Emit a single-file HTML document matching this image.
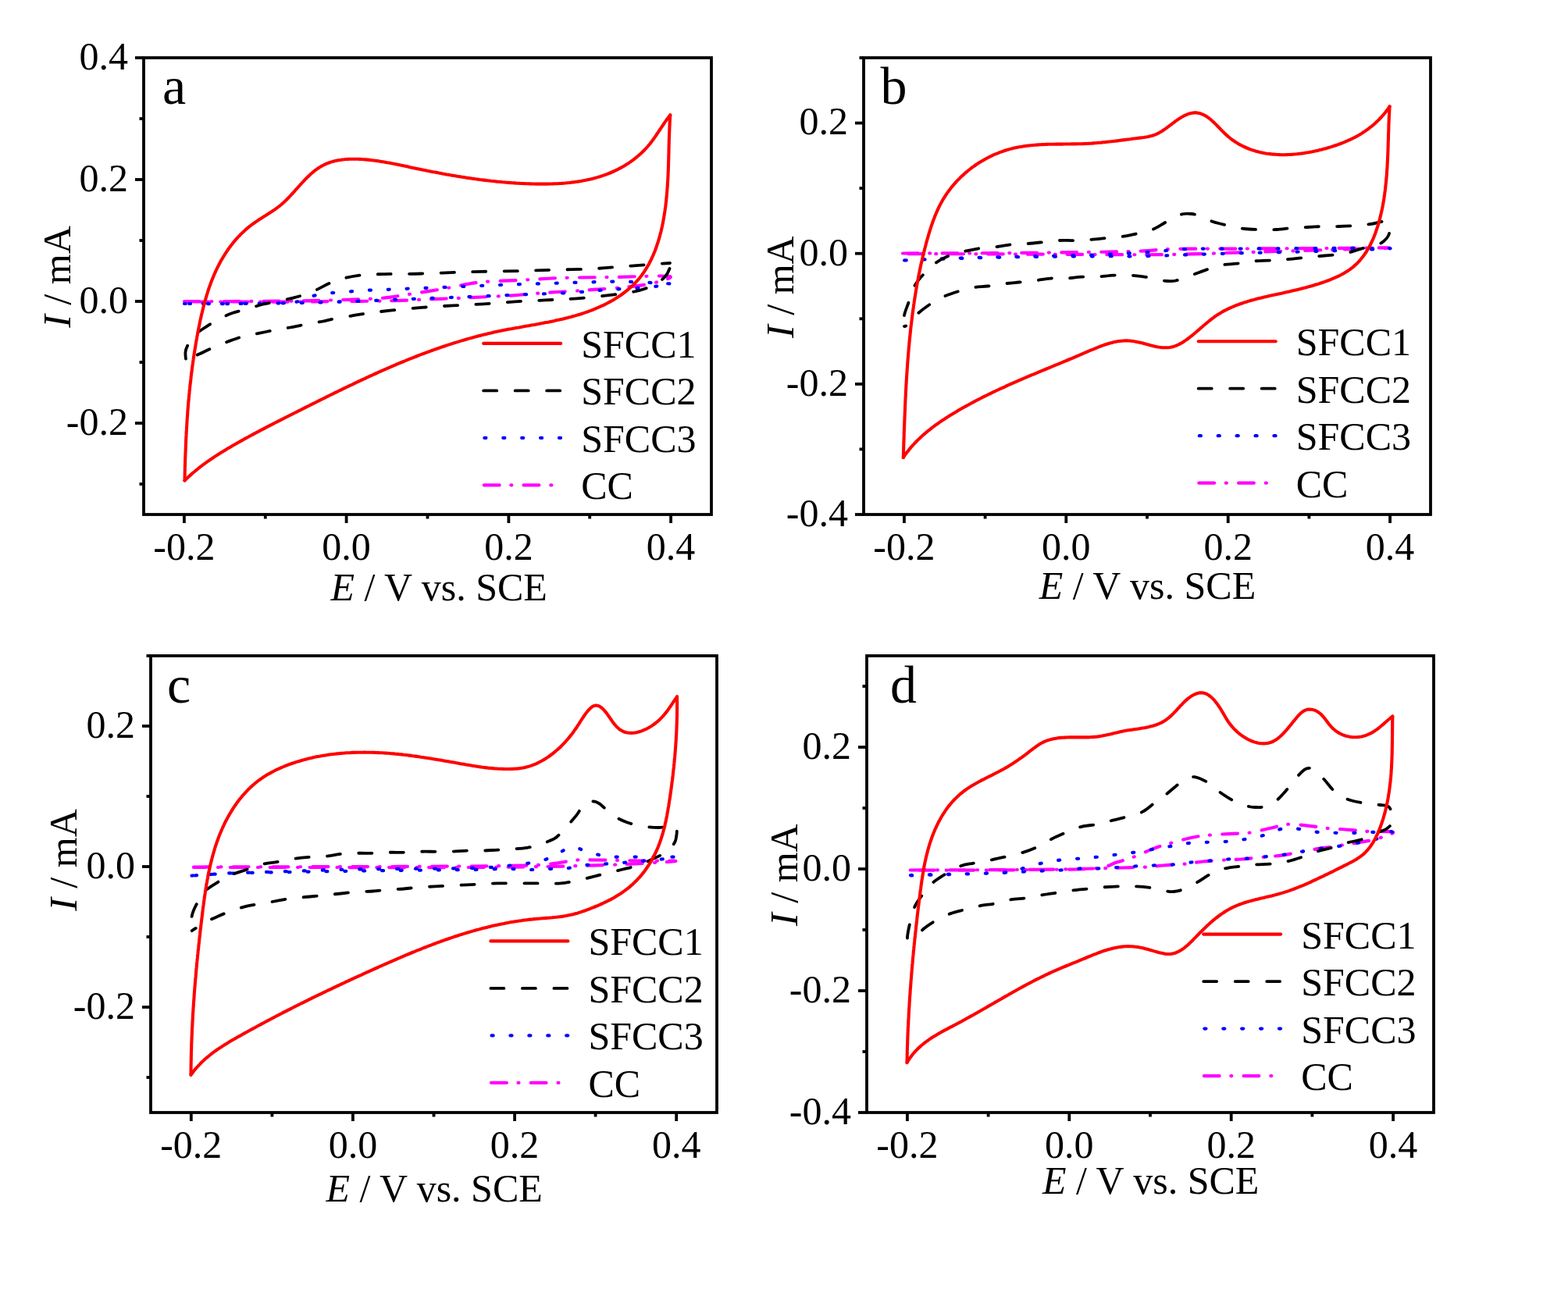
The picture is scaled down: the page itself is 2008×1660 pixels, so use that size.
<!DOCTYPE html><html><head><meta charset="utf-8"><style>html,body{margin:0;padding:0;background:#fff;}svg{display:block;}</style></head><body>
<svg font-family="Liberation Serif, Times New Roman, serif" font-size="50" fill="#000" xmlns="http://www.w3.org/2000/svg" width="2008" height="1660" viewBox="0 0 2008 1660">
<rect width="2008" height="1660" fill="#fff"/>
<g><clipPath id="clipa"><rect x="184" y="74" width="727" height="585"/></clipPath><g clip-path="url(#clipa)"><path d="M236.0,386.0 C246.7,386.0 276.0,386.1 300.0,386.0 C324.0,385.9 356.7,385.8 380.0,385.5 C403.3,385.2 423.3,384.5 440.0,384.0 C456.7,383.5 470.0,383.1 480.0,382.5 C490.0,381.9 493.5,381.4 500.0,380.6 C506.5,379.8 507.9,379.4 518.9,377.7 C529.9,376.0 550.4,372.9 566.2,370.2 C582.0,367.5 596.8,363.5 613.5,361.6 C630.2,359.7 649.1,359.7 666.5,358.8 C683.9,357.9 698.0,356.6 717.6,356.0 C737.2,355.4 760.5,355.3 783.9,355.0 C807.2,354.7 851.4,352.4 857.7,354.1 C864.0,355.8 840.3,362.4 821.7,365.4 C803.1,368.4 766.5,370.4 746.0,372.0 C725.5,373.6 714.5,373.8 698.7,374.9 C682.9,376.0 668.8,377.6 651.4,378.7 C634.0,379.8 612.0,380.7 594.6,381.5 C577.2,382.3 563.1,382.8 547.3,383.4 C531.5,384.0 517.9,384.9 500.0,385.3 C482.1,385.7 460.0,385.8 440.0,386.0 C420.0,386.2 403.3,386.4 380.0,386.5 C356.7,386.6 324.0,386.5 300.0,386.5 C276.0,386.5 246.7,386.5 236.0,386.5" stroke="#ff00ff" stroke-width="4.2" fill="none" stroke-dasharray="19.8 14.7 1 15.3" stroke-linecap="round"/><path d="M236.0,389.0 C246.7,389.0 277.2,389.2 300.0,389.0 C322.8,388.8 357.8,388.8 373.0,387.5 C388.2,386.2 384.0,383.4 391.0,381.5 C398.0,379.6 407.0,377.4 415.0,376.2 C423.0,375.0 431.0,374.9 439.0,374.2 C447.0,373.5 455.0,372.7 463.0,372.2 C471.0,371.7 479.0,371.5 487.0,371.2 C495.0,370.9 499.0,370.7 511.0,370.2 C523.0,369.7 543.2,368.9 559.0,368.3 C574.8,367.7 590.3,367.0 606.0,366.4 C621.7,365.8 637.2,365.1 653.0,364.5 C668.8,363.9 684.8,363.6 700.6,363.1 C716.4,362.6 731.9,362.0 748.0,361.6 C764.1,361.2 780.0,360.5 797.0,360.7 C814.0,360.9 839.8,362.4 850.0,363.0 C860.2,363.6 862.1,363.1 858.0,364.0 C853.9,364.9 838.8,367.1 825.5,368.3 C812.2,369.5 793.8,370.0 778.0,371.1 C762.2,372.2 747.0,373.9 731.0,374.9 C715.0,375.8 697.8,376.2 682.0,376.8 C666.2,377.4 651.8,378.1 636.0,378.7 C620.2,379.3 603.0,380.0 587.0,380.6 C571.0,381.2 552.0,382.0 540.0,382.5 C528.0,383.0 525.0,383.0 515.0,383.4 C505.0,383.8 492.5,384.5 480.0,385.0 C467.5,385.5 456.7,386.0 440.0,386.5 C423.3,387.0 403.3,387.6 380.0,388.0 C356.7,388.4 324.0,388.8 300.0,389.0 C276.0,389.2 246.7,389.0 236.0,389.0" stroke="#0000ff" stroke-width="4.2" fill="none" stroke-dasharray="2 21.9" stroke-linecap="round"/><path d="M858.0,337.0 C857.9,338.2 858.5,341.2 857.5,344.0 C856.5,346.8 854.9,350.7 852.0,354.0 C849.1,357.3 844.0,361.5 840.0,364.0 C836.0,366.5 832.6,367.4 828.0,369.0 C823.4,370.6 819.8,372.1 812.4,373.5 C805.0,374.9 796.2,376.2 783.9,377.7 C771.6,379.2 752.9,381.3 738.8,382.4 C724.6,383.5 712.2,383.7 699.0,384.4 C685.8,385.1 672.5,385.6 659.3,386.4 C646.0,387.2 632.8,388.6 619.5,389.4 C606.2,390.2 593.0,390.6 579.8,391.4 C566.5,392.1 553.3,392.9 540.0,393.9 C526.7,394.9 511.9,396.3 500.0,397.6 C488.1,398.9 477.0,400.4 468.8,401.5 C460.6,402.6 457.6,403.3 451.0,404.4 C444.4,405.5 435.7,406.7 429.0,408.0 C422.3,409.3 417.3,410.8 411.0,412.0 C404.7,413.2 397.8,414.2 391.2,415.5 C384.6,416.8 377.8,418.3 371.2,419.5 C364.6,420.7 357.9,421.7 351.3,422.9 C344.7,424.1 338.0,425.6 331.4,426.9 C324.8,428.2 317.8,429.2 311.5,430.9 C305.2,432.6 299.8,434.6 293.5,436.9 C287.2,439.2 279.7,442.1 273.6,444.8 C267.5,447.5 261.3,450.6 256.7,452.8 C252.1,455.0 248.9,456.0 246.0,458.0 C243.1,460.0 240.9,466.2 239.5,465.0 C238.1,463.8 237.2,455.0 237.5,451.0 C237.8,447.0 239.6,443.8 241.0,441.0 C242.4,438.2 243.9,436.3 245.7,434.0 C247.5,431.7 249.3,429.3 252.0,427.0 C254.7,424.7 257.1,423.0 261.7,420.0 C266.3,417.0 273.6,412.2 279.6,409.0 C285.6,405.8 290.9,403.3 297.5,401.0 C304.1,398.7 313.1,396.8 319.4,395.0 C325.7,393.2 329.4,391.5 335.4,390.0 C341.4,388.5 348.7,387.4 355.3,386.0 C361.9,384.6 369.9,382.9 375.2,381.6 C380.5,380.3 382.5,379.8 387.2,378.2 C391.9,376.6 397.1,374.8 403.1,372.2 C409.1,369.6 416.7,364.9 423.0,362.3 C429.3,359.7 434.4,358.0 441.0,356.3 C447.6,354.6 455.9,353.1 462.9,352.3 C469.9,351.5 476.2,351.5 482.8,351.3 C489.4,351.1 493.2,351.0 502.7,350.9 C512.2,350.8 525.5,350.9 540.0,350.5 C554.5,350.1 574.8,349.1 589.7,348.6 C604.6,348.1 616.2,347.9 629.5,347.6 C642.8,347.3 656.0,347.3 669.2,347.0 C682.5,346.7 695.1,346.0 709.0,345.6 C722.9,345.2 738.8,345.2 752.7,344.6 C766.6,344.0 778.9,342.7 792.5,341.7 C806.1,340.7 823.3,339.5 834.2,338.7 C845.1,337.9 854.0,337.3 858.0,337.0" stroke="#000" stroke-width="3.8" fill="none" stroke-dasharray="17.2 23.3" stroke-linecap="round" stroke-linejoin="round" stroke-dashoffset="33.5"/><path d="M236.5,615.5 L236.6,613.0 L236.6,610.5 L236.7,608.0 L236.7,605.5 L236.8,603.0 L236.8,600.5 L236.9,598.0 L237.0,595.4 L237.1,592.9 L237.1,590.4 L237.2,587.9 L237.3,585.4 L237.4,582.9 L237.5,580.4 L237.6,577.9 L237.7,575.4 L237.8,572.9 L237.9,570.4 L238.0,567.9 L238.1,565.4 L238.2,562.9 L238.3,560.4 L238.5,557.9 L238.6,555.4 L238.7,552.9 L238.9,550.4 L239.0,547.9 L239.2,545.3 L239.3,542.8 L239.5,540.3 L239.6,537.8 L239.8,535.3 L240.0,532.8 L240.2,530.3 L240.3,527.8 L240.5,525.3 L240.7,522.8 L240.9,520.3 L241.1,517.8 L241.3,515.3 L241.6,512.8 L241.8,510.3 L242.0,507.8 L242.2,505.4 L242.5,502.9 L242.7,500.4 L243.0,497.9 L243.2,495.4 L243.5,492.9 L243.8,490.4 L244.1,487.9 L244.4,485.4 L244.6,482.9 L244.9,480.4 L245.2,477.9 L245.6,475.4 L245.9,473.0 L246.2,470.5 L246.5,468.0 L246.9,465.5 L247.2,463.0 L247.6,460.5 L247.9,458.1 L248.3,455.6 L248.7,453.1 L249.1,450.6 L249.5,448.1 L249.9,445.7 L250.3,443.2 L250.7,440.7 L251.1,438.3 L251.5,435.8 L252.0,433.3 L252.4,430.8 L252.9,428.4 L253.3,425.9 L253.8,423.5 L254.3,421.0 L254.8,418.5 L255.3,416.1 L255.8,413.6 L256.3,411.2 L256.8,408.7 L257.4,406.3 L257.9,403.8 L258.5,401.4 L259.1,398.9 L259.7,396.5 L260.3,394.1 L260.9,391.6 L261.5,389.2 L262.2,386.8 L262.9,384.4 L263.6,382.0 L264.3,379.6 L265.0,377.2 L265.8,374.8 L266.5,372.4 L267.3,370.0 L268.1,367.6 L269.0,365.3 L269.8,362.9 L270.7,360.6 L271.6,358.2 L272.6,355.9 L273.5,353.6 L274.5,351.3 L275.5,349.0 L276.6,346.7 L277.6,344.5 L278.7,342.2 L279.9,340.0 L281.0,337.7 L282.2,335.5 L283.4,333.3 L284.7,331.2 L286.0,329.0 L287.3,326.9 L288.6,324.8 L290.0,322.7 L291.4,320.6 L292.8,318.5 L294.3,316.5 L295.8,314.5 L297.4,312.5 L298.9,310.6 L300.5,308.6 L302.2,306.7 L303.8,304.9 L305.5,303.0 L307.3,301.2 L309.0,299.4 L310.8,297.7 L312.7,296.0 L314.5,294.3 L316.4,292.6 L318.3,291.0 L320.3,289.5 L322.3,287.9 L324.3,286.5 L326.4,285.0 L328.4,283.6 L330.5,282.2 L332.6,280.8 L334.7,279.5 L336.8,278.1 L339.0,276.8 L341.1,275.5 L343.2,274.1 L345.3,272.8 L347.4,271.4 L349.5,270.0 L351.6,268.6 L353.6,267.1 L355.6,265.6 L357.6,264.1 L359.6,262.5 L361.5,260.9 L363.3,259.2 L365.2,257.5 L367.0,255.8 L368.7,254.0 L370.5,252.2 L372.2,250.4 L373.9,248.5 L375.6,246.7 L377.3,244.8 L378.9,242.9 L380.6,241.1 L382.3,239.2 L383.9,237.3 L385.6,235.5 L387.3,233.6 L389.0,231.8 L390.7,230.0 L392.5,228.2 L394.3,226.4 L396.1,224.7 L397.9,223.0 L399.8,221.3 L401.8,219.7 L403.7,218.2 L405.8,216.7 L407.8,215.3 L409.9,213.9 L412.1,212.6 L414.3,211.5 L416.5,210.4 L418.8,209.4 L421.2,208.5 L423.6,207.6 L426.0,206.9 L428.4,206.3 L430.8,205.7 L433.3,205.3 L435.8,204.9 L438.3,204.5 L440.7,204.3 L443.2,204.0 L445.7,203.9 L448.3,203.8 L450.8,203.7 L453.3,203.7 L455.8,203.7 L458.3,203.8 L460.8,203.9 L463.3,204.0 L465.8,204.2 L468.3,204.4 L470.8,204.6 L473.3,204.9 L475.8,205.2 L478.3,205.5 L480.7,205.8 L483.2,206.1 L485.7,206.5 L488.2,206.9 L490.7,207.3 L493.1,207.7 L495.6,208.2 L498.1,208.6 L500.5,209.1 L503.0,209.6 L505.5,210.0 L507.9,210.5 L510.4,211.0 L512.8,211.6 L515.3,212.1 L517.7,212.6 L520.2,213.1 L522.6,213.6 L525.1,214.2 L527.5,214.7 L530.0,215.2 L532.4,215.7 L534.9,216.2 L537.4,216.7 L539.8,217.2 L542.3,217.7 L544.7,218.2 L547.2,218.7 L549.6,219.2 L552.1,219.7 L554.6,220.2 L557.0,220.6 L559.5,221.1 L562.0,221.6 L564.4,222.0 L566.9,222.5 L569.4,222.9 L571.8,223.4 L574.3,223.8 L576.8,224.3 L579.2,224.7 L581.7,225.1 L584.2,225.5 L586.7,225.9 L589.1,226.3 L591.6,226.7 L594.1,227.1 L596.6,227.5 L599.0,227.9 L601.5,228.2 L604.0,228.6 L606.5,228.9 L609.0,229.3 L611.5,229.6 L613.9,230.0 L616.4,230.3 L618.9,230.6 L621.4,230.9 L623.9,231.2 L626.4,231.5 L628.9,231.8 L631.4,232.0 L633.9,232.3 L636.4,232.6 L638.8,232.8 L641.3,233.0 L643.8,233.3 L646.3,233.5 L648.8,233.7 L651.3,233.9 L653.8,234.1 L656.3,234.3 L658.8,234.4 L661.3,234.6 L663.8,234.7 L666.3,234.9 L668.9,235.0 L671.4,235.1 L673.9,235.2 L676.4,235.3 L678.9,235.4 L681.4,235.5 L683.9,235.5 L686.4,235.6 L688.9,235.6 L691.4,235.6 L693.9,235.6 L696.4,235.6 L698.9,235.6 L701.4,235.6 L703.9,235.5 L706.5,235.5 L709.0,235.4 L711.5,235.3 L714.0,235.2 L716.5,235.0 L719.0,234.9 L721.5,234.7 L724.0,234.5 L726.5,234.2 L729.0,234.0 L731.5,233.7 L733.9,233.4 L736.4,233.1 L738.9,232.7 L741.4,232.4 L743.9,232.0 L746.3,231.5 L748.8,231.1 L751.3,230.6 L753.7,230.0 L756.2,229.5 L758.6,228.9 L761.0,228.3 L763.4,227.6 L765.8,226.9 L768.2,226.2 L770.6,225.4 L773.0,224.6 L775.4,223.8 L777.7,222.9 L780.1,222.0 L782.4,221.0 L784.7,220.0 L787.0,219.0 L789.2,217.9 L791.5,216.8 L793.7,215.6 L795.9,214.4 L798.1,213.2 L800.2,211.9 L802.4,210.6 L804.5,209.3 L806.6,207.9 L808.6,206.4 L810.7,205.0 L812.6,203.4 L814.6,201.9 L816.5,200.3 L818.4,198.6 L820.3,197.0 L822.1,195.3 L823.9,193.5 L825.7,191.7 L827.4,189.9 L829.1,188.0 L830.7,186.1 L832.3,184.2 L833.8,182.2 L835.3,180.2 L836.8,178.2 L838.3,176.1 L839.7,174.1 L841.1,172.0 L842.5,169.9 L843.9,167.8 L845.3,165.8 L846.7,163.7 L848.1,161.6 L849.5,159.5 L850.9,157.4 L852.3,155.4 L853.8,153.3 L855.3,151.3 L856.8,149.3 L858.3,147.3" stroke="#ff0000" stroke-width="4.1" fill="none" stroke-linejoin="round" stroke-linecap="round"/><path d="M858.3,147.3 L858.1,149.8 L858.0,152.3 L857.8,154.8 L857.7,157.3 L857.6,159.8 L857.5,162.3 L857.4,164.9 L857.3,167.4 L857.2,169.9 L857.1,172.4 L857.0,174.9 L856.9,177.4 L856.8,179.9 L856.8,182.4 L856.7,184.9 L856.6,187.4 L856.6,190.0 L856.5,192.5 L856.5,195.0 L856.4,197.5 L856.3,200.0 L856.3,202.5 L856.2,205.0 L856.1,207.5 L856.0,210.0 L856.0,212.5 L855.9,215.1 L855.8,217.6 L855.7,220.1 L855.6,222.6 L855.5,225.1 L855.4,227.6 L855.2,230.1 L855.1,232.6 L854.9,235.1 L854.8,237.6 L854.6,240.1 L854.4,242.6 L854.2,245.1 L854.0,247.6 L853.8,250.1 L853.6,252.6 L853.3,255.1 L853.1,257.6 L852.8,260.1 L852.5,262.6 L852.2,265.1 L851.8,267.6 L851.5,270.1 L851.1,272.6 L850.7,275.1 L850.3,277.5 L849.9,280.0 L849.4,282.5 L849.0,285.0 L848.5,287.4 L848.0,289.9 L847.4,292.3 L846.9,294.8 L846.3,297.2 L845.6,299.6 L845.0,302.1 L844.3,304.5 L843.6,306.9 L842.9,309.3 L842.1,311.7 L841.3,314.1 L840.5,316.5 L839.7,318.8 L838.8,321.2 L837.8,323.5 L836.9,325.8 L835.9,328.1 L834.8,330.4 L833.8,332.7 L832.6,334.9 L831.5,337.2 L830.3,339.4 L829.0,341.5 L827.8,343.7 L826.4,345.8 L825.1,347.9 L823.6,350.0 L822.2,352.0 L820.7,354.0 L819.1,356.0 L817.5,357.9 L815.8,359.8 L814.1,361.7 L812.4,363.5 L810.6,365.3 L808.8,367.0 L806.9,368.7 L805.0,370.3 L803.1,371.9 L801.1,373.5 L799.1,375.0 L797.1,376.5 L795.1,378.0 L793.0,379.4 L790.9,380.8 L788.8,382.1 L786.6,383.4 L784.5,384.7 L782.3,385.9 L780.1,387.1 L777.9,388.3 L775.6,389.5 L773.4,390.6 L771.1,391.7 L768.8,392.7 L766.6,393.7 L764.2,394.7 L761.9,395.7 L759.6,396.6 L757.3,397.6 L754.9,398.4 L752.5,399.3 L750.2,400.1 L747.8,400.9 L745.4,401.7 L743.0,402.5 L740.6,403.2 L738.2,403.9 L735.8,404.6 L733.4,405.3 L731.0,406.0 L728.5,406.6 L726.1,407.2 L723.7,407.8 L721.2,408.4 L718.8,409.0 L716.3,409.6 L713.9,410.1 L711.4,410.6 L709.0,411.2 L706.5,411.7 L704.0,412.2 L701.6,412.7 L699.1,413.1 L696.7,413.6 L694.2,414.1 L691.7,414.5 L689.2,415.0 L686.8,415.4 L684.3,415.9 L681.8,416.3 L679.4,416.7 L676.9,417.2 L674.4,417.6 L671.9,418.1 L669.5,418.5 L667.0,418.9 L664.5,419.4 L662.0,419.8 L659.6,420.3 L657.1,420.7 L654.6,421.2 L652.2,421.6 L649.7,422.1 L647.2,422.6 L644.8,423.1 L642.3,423.6 L639.8,424.1 L637.4,424.6 L634.9,425.1 L632.5,425.6 L630.0,426.2 L627.6,426.8 L625.1,427.3 L622.7,427.9 L620.3,428.5 L617.8,429.1 L615.4,429.7 L613.0,430.3 L610.5,431.0 L608.1,431.6 L605.7,432.3 L603.2,432.9 L600.8,433.6 L598.4,434.3 L596.0,435.0 L593.6,435.7 L591.2,436.4 L588.8,437.1 L586.4,437.9 L584.0,438.6 L581.6,439.3 L579.2,440.1 L576.8,440.9 L574.4,441.6 L572.0,442.4 L569.6,443.2 L567.3,444.0 L564.9,444.8 L562.5,445.6 L560.1,446.5 L557.8,447.3 L555.4,448.1 L553.0,449.0 L550.7,449.9 L548.3,450.7 L546.0,451.6 L543.6,452.5 L541.3,453.3 L538.9,454.2 L536.6,455.1 L534.2,456.0 L531.9,457.0 L529.5,457.9 L527.2,458.8 L524.9,459.7 L522.5,460.7 L520.2,461.6 L517.9,462.6 L515.6,463.5 L513.2,464.5 L510.9,465.4 L508.6,466.4 L506.3,467.4 L504.0,468.4 L501.7,469.4 L499.4,470.4 L497.1,471.4 L494.8,472.4 L492.5,473.4 L490.2,474.4 L487.9,475.4 L485.6,476.4 L483.3,477.5 L481.0,478.5 L478.7,479.5 L476.4,480.6 L474.1,481.6 L471.9,482.7 L469.6,483.7 L467.3,484.8 L465.0,485.8 L462.8,486.9 L460.5,488.0 L458.2,489.0 L455.9,490.1 L453.7,491.2 L451.4,492.3 L449.1,493.3 L446.9,494.4 L444.6,495.5 L442.3,496.6 L440.1,497.7 L437.8,498.8 L435.6,499.9 L433.3,501.0 L431.1,502.1 L428.8,503.2 L426.5,504.3 L424.3,505.4 L422.0,506.5 L419.8,507.6 L417.5,508.8 L415.3,509.9 L413.0,511.0 L410.8,512.1 L408.5,513.2 L406.3,514.3 L404.1,515.5 L401.8,516.6 L399.6,517.7 L397.3,518.8 L395.1,520.0 L392.8,521.1 L390.6,522.2 L388.3,523.4 L386.1,524.5 L383.9,525.6 L381.6,526.7 L379.4,527.9 L377.1,529.0 L374.9,530.1 L372.6,531.3 L370.4,532.4 L368.2,533.5 L365.9,534.6 L363.7,535.8 L361.4,536.9 L359.2,538.1 L357.0,539.2 L354.7,540.3 L352.5,541.5 L350.2,542.6 L348.0,543.8 L345.8,544.9 L343.5,546.1 L341.3,547.2 L339.1,548.4 L336.9,549.6 L334.6,550.7 L332.4,551.9 L330.2,553.1 L328.0,554.2 L325.8,555.4 L323.6,556.6 L321.3,557.8 L319.1,559.0 L316.9,560.2 L314.7,561.4 L312.5,562.6 L310.3,563.9 L308.1,565.1 L306.0,566.3 L303.8,567.5 L301.6,568.8 L299.4,570.0 L297.2,571.3 L295.1,572.6 L292.9,573.8 L290.7,575.1 L288.6,576.4 L286.4,577.7 L284.3,579.0 L282.2,580.3 L280.0,581.7 L277.9,583.0 L275.8,584.4 L273.7,585.8 L271.6,587.2 L269.5,588.6 L267.5,590.0 L265.4,591.4 L263.4,592.9 L261.3,594.4 L259.3,595.9 L257.3,597.4 L255.3,598.9 L253.4,600.5 L251.4,602.1 L249.5,603.7 L247.6,605.3 L245.7,606.9 L243.8,608.6 L241.9,610.3 L240.1,612.0 L238.3,613.7 L236.5,615.5" stroke="#ff0000" stroke-width="4.1" fill="none" stroke-linejoin="round" stroke-linecap="round"/></g><rect x="184" y="74" width="727" height="585" fill="none" stroke="#000" stroke-width="3.8"/><line x1="235.9" y1="659" x2="235.9" y2="670.0" stroke="#000" stroke-width="3.8"/><text x="235.9" y="716.6" text-anchor="middle">-0.2</text><line x1="443.6" y1="659" x2="443.6" y2="670.0" stroke="#000" stroke-width="3.8"/><text x="443.6" y="716.6" text-anchor="middle">0.0</text><line x1="651.4" y1="659" x2="651.4" y2="670.0" stroke="#000" stroke-width="3.8"/><text x="651.4" y="716.6" text-anchor="middle">0.2</text><line x1="859.1" y1="659" x2="859.1" y2="670.0" stroke="#000" stroke-width="3.8"/><text x="859.1" y="716.6" text-anchor="middle">0.4</text><line x1="339.8" y1="659" x2="339.8" y2="664.5" stroke="#000" stroke-width="3.8"/><line x1="547.5" y1="659" x2="547.5" y2="664.5" stroke="#000" stroke-width="3.8"/><line x1="755.2" y1="659" x2="755.2" y2="664.5" stroke="#000" stroke-width="3.8"/><line x1="184" y1="542.0" x2="173.0" y2="542.0" stroke="#000" stroke-width="3.8"/><text x="164.0" y="556.8" text-anchor="end">-0.2</text><line x1="184" y1="386.0" x2="173.0" y2="386.0" stroke="#000" stroke-width="3.8"/><text x="164.0" y="400.8" text-anchor="end">0.0</text><line x1="184" y1="230.0" x2="173.0" y2="230.0" stroke="#000" stroke-width="3.8"/><text x="164.0" y="244.8" text-anchor="end">0.2</text><line x1="184" y1="74.0" x2="173.0" y2="74.0" stroke="#000" stroke-width="3.8"/><text x="164.0" y="88.8" text-anchor="end">0.4</text><line x1="184" y1="620.0" x2="178.5" y2="620.0" stroke="#000" stroke-width="3.8"/><line x1="184" y1="464.0" x2="178.5" y2="464.0" stroke="#000" stroke-width="3.8"/><line x1="184" y1="308.0" x2="178.5" y2="308.0" stroke="#000" stroke-width="3.8"/><line x1="184" y1="152.0" x2="178.5" y2="152.0" stroke="#000" stroke-width="3.8"/><text x="208.0" y="133.0" font-size="68">a</text><text x="423.5" y="769.4"><tspan font-style="italic">E</tspan> / V vs. SCE</text><text transform="translate(90.2,354.5) rotate(-90)" text-anchor="middle"><tspan font-style="italic">I</tspan> / mA</text><line x1="619.2" y1="439.9" x2="718.2" y2="439.9" stroke="#ff0000" stroke-width="4.1" fill="none" stroke-linejoin="round" stroke-linecap="round"/><text x="744.2" y="457.9">SFCC1</text><line x1="619.2" y1="500.4" x2="636.2" y2="500.4" stroke="#000" stroke-width="3.8" stroke-linecap="round"/><line x1="659.7" y1="500.4" x2="676.7" y2="500.4" stroke="#000" stroke-width="3.8" stroke-linecap="round"/><line x1="700.2" y1="500.4" x2="717.2" y2="500.4" stroke="#000" stroke-width="3.8" stroke-linecap="round"/><text x="744.2" y="518.4">SFCC2</text><line x1="620.4" y1="560.9" x2="622.4" y2="560.9" stroke="#0000ff" stroke-width="4.2" stroke-linecap="round"/><line x1="644.3" y1="560.9" x2="646.3" y2="560.9" stroke="#0000ff" stroke-width="4.2" stroke-linecap="round"/><line x1="668.2" y1="560.9" x2="670.2" y2="560.9" stroke="#0000ff" stroke-width="4.2" stroke-linecap="round"/><line x1="692.1" y1="560.9" x2="694.1" y2="560.9" stroke="#0000ff" stroke-width="4.2" stroke-linecap="round"/><line x1="716.0" y1="560.9" x2="718.0" y2="560.9" stroke="#0000ff" stroke-width="4.2" stroke-linecap="round"/><text x="744.2" y="578.9">SFCC3</text><line x1="619.8" y1="621.4" x2="639.6" y2="621.4" stroke="#ff00ff" stroke-width="4.2" stroke-linecap="round"/><line x1="654.3" y1="621.4" x2="655.3" y2="621.4" stroke="#ff00ff" stroke-width="4.2" stroke-linecap="round"/><line x1="670.6" y1="621.4" x2="690.3" y2="621.4" stroke="#ff00ff" stroke-width="4.2" stroke-linecap="round"/><line x1="705.3" y1="621.4" x2="706.3" y2="621.4" stroke="#ff00ff" stroke-width="4.2" stroke-linecap="round"/><text x="744.2" y="639.4">CC</text></g>
<g><clipPath id="clipb"><rect x="1106" y="74" width="726" height="585"/></clipPath><g clip-path="url(#clipb)"><path d="M1156.0,324.5 C1180.0,324.4 1251.0,324.4 1300.0,324.0 C1349.0,323.6 1416.7,322.8 1450.0,322.0 C1483.3,321.2 1475.0,319.6 1500.0,319.0 C1525.0,318.4 1566.7,318.7 1600.0,318.5 C1633.3,318.3 1670.2,318.2 1700.0,318.0 C1729.8,317.8 1779.0,317.2 1779.0,317.5 C1779.0,317.8 1729.8,319.1 1700.0,320.0 C1670.2,320.9 1633.3,322.0 1600.0,323.0 C1566.7,324.0 1533.3,325.5 1500.0,326.0 C1466.7,326.5 1433.3,326.1 1400.0,326.0 C1366.7,325.9 1340.7,325.7 1300.0,325.5 C1259.3,325.3 1180.0,325.1 1156.0,325.0" stroke="#ff00ff" stroke-width="4.2" fill="none" stroke-dasharray="19.8 14.7 1 15.3" stroke-linecap="round"/><path d="M1158.0,333.5 C1169.8,333.0 1205.2,331.3 1229.0,330.5 C1252.8,329.7 1272.5,329.5 1301.0,328.8 C1329.5,328.1 1371.8,327.5 1400.0,326.5 C1428.2,325.5 1450.0,324.2 1470.0,323.0 C1490.0,321.8 1498.3,319.8 1520.0,319.0 C1541.7,318.2 1556.8,318.7 1600.0,318.5 C1643.2,318.3 1765.7,317.4 1779.0,318.0 C1792.3,318.6 1716.5,320.8 1680.0,322.0 C1643.5,323.2 1595.0,324.0 1560.0,325.0 C1525.0,326.0 1496.7,327.4 1470.0,328.0 C1443.3,328.6 1428.2,328.1 1400.0,328.3 C1371.8,328.5 1329.5,328.8 1301.0,329.2 C1272.5,329.6 1249.0,330.4 1229.0,331.0 C1209.0,331.6 1192.8,332.1 1181.0,332.5 C1169.2,332.9 1161.8,333.3 1158.0,333.5" stroke="#0000ff" stroke-width="4.2" fill="none" stroke-dasharray="2 21.9" stroke-linecap="round"/><path d="M1158.0,418.0 C1158.0,415.7 1157.1,409.1 1158.0,404.0 C1158.9,398.9 1161.5,393.5 1163.6,387.4 C1165.7,381.3 1167.6,373.3 1170.6,367.5 C1173.6,361.7 1176.9,357.7 1181.5,352.6 C1186.1,347.5 1192.4,341.0 1198.4,336.7 C1204.4,332.4 1211.2,329.2 1217.3,326.8 C1223.4,324.4 1228.7,323.5 1235.0,322.0 C1241.3,320.5 1248.0,319.0 1255.0,318.0 C1262.0,317.0 1270.0,316.8 1277.0,316.0 C1284.0,315.2 1290.4,313.7 1297.0,313.0 C1303.6,312.3 1310.1,312.5 1316.7,312.0 C1323.3,311.5 1330.0,310.7 1336.6,310.0 C1343.2,309.3 1349.9,308.3 1356.5,308.0 C1363.1,307.7 1369.8,308.2 1376.4,308.0 C1383.0,307.8 1389.4,307.5 1396.0,307.0 C1402.6,306.5 1409.2,305.7 1416.0,305.0 C1422.8,304.3 1430.2,304.0 1437.0,303.0 C1443.8,302.0 1450.5,300.5 1457.0,299.0 C1463.5,297.5 1469.4,296.7 1475.9,294.0 C1482.4,291.3 1489.2,286.3 1495.8,283.0 C1502.4,279.7 1509.0,275.2 1515.6,274.0 C1522.2,272.8 1529.2,274.3 1535.5,276.0 C1541.8,277.7 1547.1,281.8 1553.4,284.0 C1559.7,286.2 1566.7,287.5 1573.3,289.0 C1579.9,290.5 1586.2,292.2 1593.2,293.0 C1600.2,293.8 1608.0,293.8 1615.0,294.0 C1622.0,294.2 1628.4,294.3 1635.0,294.0 C1641.6,293.7 1648.2,292.5 1654.8,292.0 C1661.4,291.5 1668.1,291.3 1674.7,291.0 C1681.3,290.7 1688.0,290.2 1694.6,290.0 C1701.2,289.8 1707.8,290.2 1714.5,290.0 C1721.2,289.8 1728.2,289.5 1735.0,289.0 C1741.8,288.5 1748.0,287.8 1755.0,287.0 C1762.0,286.2 1773.0,282.0 1777.0,284.0 C1781.0,286.0 1779.8,294.8 1779.0,299.0 C1778.2,303.2 1774.8,306.5 1772.0,309.0 C1769.2,311.5 1767.0,312.4 1762.0,314.0 C1757.0,315.6 1748.9,317.0 1742.3,318.8 C1735.7,320.6 1728.9,323.5 1722.4,324.8 C1715.9,326.1 1710.1,326.2 1703.5,326.8 C1696.9,327.4 1689.3,328.1 1682.7,328.7 C1676.1,329.3 1670.4,330.0 1663.8,330.7 C1657.2,331.4 1649.6,332.2 1643.0,332.7 C1636.4,333.2 1630.8,333.4 1624.0,333.7 C1617.2,334.0 1608.8,334.0 1602.0,334.7 C1595.2,335.4 1589.7,336.9 1583.3,337.7 C1576.9,338.5 1569.9,338.4 1563.4,339.7 C1556.9,341.0 1550.8,343.5 1544.5,345.6 C1538.2,347.8 1532.1,350.3 1525.6,352.6 C1519.1,354.9 1510.8,358.3 1505.7,359.5 C1500.6,360.7 1498.3,360.1 1495.0,360.0 C1491.7,359.9 1490.6,359.5 1485.8,358.6 C1481.0,357.7 1472.6,355.6 1466.0,354.6 C1459.4,353.6 1452.7,352.9 1446.0,352.6 C1439.3,352.3 1432.8,352.3 1426.0,352.6 C1419.2,352.9 1411.8,354.3 1405.0,354.6 C1398.2,354.9 1391.6,354.3 1385.0,354.6 C1378.4,354.9 1372.0,356.3 1365.4,356.6 C1358.8,356.9 1352.3,356.1 1345.5,356.6 C1338.7,357.1 1331.5,358.7 1324.7,359.5 C1317.9,360.3 1311.4,360.8 1304.8,361.5 C1298.2,362.2 1291.6,362.7 1285.0,363.5 C1278.4,364.3 1271.6,365.7 1265.0,366.5 C1258.4,367.3 1251.7,367.3 1245.2,368.5 C1238.8,369.7 1232.6,371.5 1226.3,373.5 C1220.0,375.5 1213.2,377.8 1207.4,380.4 C1201.6,383.0 1197.0,385.8 1191.5,389.4 C1186.0,393.0 1179.6,397.8 1174.6,402.3 C1169.6,406.8 1164.4,413.6 1161.6,416.2 C1158.8,418.8 1158.6,417.7 1158.0,418.0" stroke="#000" stroke-width="3.8" fill="none" stroke-dasharray="17.2 23.3" stroke-linecap="round" stroke-linejoin="round" stroke-dashoffset="26.5"/><path d="M1156.8,586.0 L1156.9,583.5 L1157.0,581.0 L1157.0,578.5 L1157.1,576.0 L1157.2,573.5 L1157.3,571.0 L1157.3,568.5 L1157.4,565.9 L1157.5,563.4 L1157.6,560.9 L1157.7,558.4 L1157.7,555.9 L1157.8,553.4 L1157.9,550.9 L1158.0,548.4 L1158.1,545.9 L1158.2,543.4 L1158.3,540.9 L1158.4,538.4 L1158.5,535.9 L1158.6,533.4 L1158.7,530.9 L1158.8,528.4 L1158.9,525.9 L1159.0,523.3 L1159.1,520.8 L1159.2,518.3 L1159.3,515.8 L1159.4,513.3 L1159.5,510.8 L1159.7,508.3 L1159.8,505.8 L1159.9,503.3 L1160.0,500.8 L1160.2,498.3 L1160.3,495.8 L1160.4,493.3 L1160.6,490.8 L1160.7,488.3 L1160.9,485.8 L1161.0,483.3 L1161.2,480.8 L1161.4,478.3 L1161.5,475.8 L1161.7,473.3 L1161.9,470.8 L1162.0,468.3 L1162.2,465.8 L1162.4,463.3 L1162.6,460.8 L1162.8,458.3 L1163.0,455.8 L1163.2,453.3 L1163.4,450.8 L1163.6,448.3 L1163.8,445.8 L1164.1,443.3 L1164.3,440.8 L1164.5,438.3 L1164.8,435.8 L1165.0,433.3 L1165.3,430.8 L1165.5,428.3 L1165.8,425.8 L1166.0,423.3 L1166.3,420.8 L1166.6,418.3 L1166.9,415.8 L1167.2,413.3 L1167.5,410.9 L1167.8,408.4 L1168.1,405.9 L1168.4,403.4 L1168.7,400.9 L1169.1,398.4 L1169.4,395.9 L1169.8,393.5 L1170.1,391.0 L1170.5,388.5 L1170.8,386.0 L1171.2,383.5 L1171.6,381.0 L1172.0,378.6 L1172.4,376.1 L1172.8,373.6 L1173.2,371.1 L1173.6,368.7 L1174.0,366.2 L1174.5,363.7 L1174.9,361.3 L1175.4,358.8 L1175.9,356.3 L1176.3,353.9 L1176.8,351.4 L1177.3,349.0 L1177.8,346.5 L1178.3,344.0 L1178.8,341.6 L1179.4,339.1 L1179.9,336.7 L1180.5,334.2 L1181.0,331.8 L1181.6,329.4 L1182.2,326.9 L1182.8,324.5 L1183.4,322.1 L1184.0,319.6 L1184.6,317.2 L1185.3,314.8 L1185.9,312.3 L1186.6,309.9 L1187.2,307.5 L1187.9,305.1 L1188.6,302.7 L1189.3,300.3 L1190.0,297.9 L1190.8,295.5 L1191.5,293.1 L1192.3,290.7 L1193.1,288.3 L1193.9,286.0 L1194.7,283.6 L1195.6,281.2 L1196.5,278.9 L1197.4,276.6 L1198.4,274.2 L1199.4,271.9 L1200.4,269.6 L1201.4,267.4 L1202.5,265.1 L1203.6,262.9 L1204.8,260.6 L1206.0,258.4 L1207.2,256.3 L1208.5,254.1 L1209.9,252.0 L1211.2,249.9 L1212.6,247.8 L1214.1,245.8 L1215.6,243.7 L1217.1,241.7 L1218.6,239.8 L1220.2,237.8 L1221.9,235.9 L1223.5,234.1 L1225.2,232.2 L1226.9,230.4 L1228.7,228.6 L1230.5,226.8 L1232.3,225.1 L1234.2,223.4 L1236.0,221.8 L1237.9,220.1 L1239.9,218.5 L1241.8,217.0 L1243.8,215.4 L1245.8,213.9 L1247.9,212.5 L1249.9,211.0 L1252.0,209.6 L1254.1,208.3 L1256.2,207.0 L1258.4,205.7 L1260.6,204.4 L1262.8,203.2 L1265.0,202.0 L1267.2,200.9 L1269.5,199.8 L1271.7,198.7 L1274.0,197.7 L1276.3,196.8 L1278.7,195.8 L1281.0,194.9 L1283.4,194.1 L1285.7,193.3 L1288.1,192.5 L1290.5,191.8 L1292.9,191.1 L1295.4,190.4 L1297.8,189.8 L1300.2,189.3 L1302.7,188.8 L1305.2,188.3 L1307.6,187.9 L1310.1,187.5 L1312.6,187.1 L1315.1,186.8 L1317.6,186.5 L1320.1,186.2 L1322.6,186.0 L1325.1,185.8 L1327.6,185.6 L1330.1,185.4 L1332.6,185.3 L1335.1,185.1 L1337.6,185.0 L1340.1,184.9 L1342.6,184.8 L1345.1,184.8 L1347.6,184.7 L1350.1,184.7 L1352.6,184.6 L1355.1,184.6 L1357.6,184.6 L1360.1,184.6 L1362.6,184.5 L1365.1,184.5 L1367.7,184.5 L1370.2,184.5 L1372.7,184.4 L1375.2,184.4 L1377.7,184.4 L1380.2,184.3 L1382.7,184.2 L1385.2,184.2 L1387.7,184.1 L1390.2,184.0 L1392.7,183.9 L1395.2,183.7 L1397.7,183.6 L1400.2,183.4 L1402.7,183.2 L1405.2,183.0 L1407.7,182.8 L1410.2,182.6 L1412.7,182.3 L1415.2,182.1 L1417.7,181.8 L1420.2,181.5 L1422.7,181.3 L1425.2,181.0 L1427.7,180.7 L1430.2,180.4 L1432.7,180.1 L1435.1,179.7 L1437.6,179.4 L1440.1,179.1 L1442.6,178.8 L1445.1,178.5 L1447.6,178.2 L1450.1,177.8 L1452.6,177.5 L1455.0,177.2 L1457.5,176.9 L1460.0,176.6 L1462.5,176.3 L1465.0,176.0 L1467.5,175.6 L1469.9,175.2 L1472.4,174.6 L1474.8,174.0 L1477.2,173.3 L1479.6,172.4 L1481.9,171.4 L1484.1,170.2 L1486.3,169.0 L1488.4,167.7 L1490.5,166.3 L1492.6,164.9 L1494.6,163.4 L1496.6,161.9 L1498.6,160.4 L1500.6,158.9 L1502.6,157.3 L1504.6,155.8 L1506.6,154.4 L1508.7,152.9 L1510.8,151.6 L1512.9,150.2 L1515.1,149.0 L1517.3,147.8 L1519.6,146.8 L1521.9,145.9 L1524.3,145.2 L1526.8,144.7 L1529.3,144.4 L1531.8,144.4 L1534.3,144.7 L1536.7,145.3 L1539.1,146.1 L1541.4,147.1 L1543.6,148.3 L1545.7,149.6 L1547.8,151.0 L1549.8,152.6 L1551.7,154.2 L1553.5,155.9 L1555.3,157.6 L1557.1,159.4 L1558.9,161.2 L1560.6,163.0 L1562.4,164.8 L1564.1,166.6 L1565.9,168.4 L1567.6,170.2 L1569.5,171.9 L1571.3,173.6 L1573.2,175.2 L1575.1,176.8 L1577.1,178.3 L1579.1,179.8 L1581.2,181.2 L1583.3,182.6 L1585.5,183.9 L1587.6,185.2 L1589.9,186.3 L1592.1,187.5 L1594.4,188.5 L1596.7,189.5 L1599.0,190.5 L1601.3,191.4 L1603.7,192.2 L1606.1,192.9 L1608.5,193.7 L1610.9,194.3 L1613.3,194.9 L1615.8,195.4 L1618.3,195.9 L1620.7,196.4 L1623.2,196.8 L1625.7,197.1 L1628.2,197.4 L1630.7,197.6 L1633.2,197.8 L1635.7,198.0 L1638.2,198.1 L1640.7,198.2 L1643.2,198.2 L1645.7,198.2 L1648.2,198.1 L1650.7,198.0 L1653.2,197.9 L1655.7,197.7 L1658.2,197.5 L1660.7,197.3 L1663.2,197.0 L1665.7,196.7 L1668.2,196.4 L1670.7,196.0 L1673.1,195.6 L1675.6,195.2 L1678.1,194.7 L1680.5,194.3 L1683.0,193.8 L1685.4,193.2 L1687.9,192.7 L1690.3,192.1 L1692.8,191.5 L1695.2,190.8 L1697.6,190.2 L1700.0,189.5 L1702.4,188.8 L1704.8,188.1 L1707.2,187.3 L1709.6,186.5 L1712.0,185.7 L1714.3,184.9 L1716.7,184.0 L1719.0,183.1 L1721.4,182.2 L1723.7,181.2 L1726.0,180.2 L1728.3,179.2 L1730.5,178.1 L1732.8,177.0 L1735.0,175.9 L1737.2,174.7 L1739.4,173.5 L1741.6,172.2 L1743.7,170.9 L1745.8,169.5 L1747.9,168.2 L1750.0,166.7 L1752.0,165.3 L1754.0,163.7 L1756.0,162.2 L1757.9,160.6 L1759.8,159.0 L1761.7,157.3 L1763.5,155.6 L1765.3,153.8 L1767.0,152.0 L1768.8,150.2 L1770.4,148.3 L1772.1,146.4 L1773.7,144.5 L1775.2,142.5 L1776.7,140.5 L1778.2,138.5 L1779.6,136.4" stroke="#ff0000" stroke-width="4.1" fill="none" stroke-linejoin="round" stroke-linecap="round"/><path d="M1779.6,136.4 L1779.4,138.9 L1779.3,141.4 L1779.2,143.9 L1779.1,146.4 L1778.9,148.9 L1778.8,151.4 L1778.7,153.9 L1778.6,156.5 L1778.5,159.0 L1778.4,161.5 L1778.4,164.0 L1778.3,166.5 L1778.2,169.0 L1778.1,171.5 L1778.0,174.0 L1778.0,176.5 L1777.9,179.0 L1777.8,181.5 L1777.7,184.0 L1777.7,186.5 L1777.6,189.1 L1777.5,191.6 L1777.4,194.1 L1777.3,196.6 L1777.2,199.1 L1777.1,201.6 L1777.0,204.1 L1776.9,206.6 L1776.7,209.1 L1776.6,211.6 L1776.5,214.1 L1776.3,216.6 L1776.1,219.1 L1776.0,221.6 L1775.8,224.1 L1775.6,226.6 L1775.4,229.1 L1775.1,231.6 L1774.9,234.1 L1774.6,236.6 L1774.4,239.1 L1774.1,241.6 L1773.8,244.1 L1773.4,246.6 L1773.1,249.1 L1772.7,251.6 L1772.4,254.1 L1772.0,256.5 L1771.6,259.0 L1771.1,261.5 L1770.7,263.9 L1770.2,266.4 L1769.7,268.9 L1769.1,271.3 L1768.6,273.8 L1768.0,276.2 L1767.4,278.6 L1766.8,281.1 L1766.1,283.5 L1765.5,285.9 L1764.8,288.3 L1764.0,290.7 L1763.2,293.1 L1762.4,295.5 L1761.6,297.9 L1760.7,300.2 L1759.8,302.5 L1758.9,304.9 L1757.9,307.2 L1756.8,309.5 L1755.7,311.7 L1754.6,314.0 L1753.4,316.2 L1752.2,318.4 L1750.9,320.5 L1749.6,322.7 L1748.2,324.7 L1746.8,326.8 L1745.3,328.8 L1743.7,330.8 L1742.1,332.7 L1740.5,334.6 L1738.8,336.4 L1737.0,338.2 L1735.1,339.9 L1733.2,341.6 L1731.3,343.1 L1729.3,344.7 L1727.2,346.1 L1725.2,347.5 L1723.0,348.8 L1720.9,350.1 L1718.7,351.3 L1716.5,352.5 L1714.2,353.6 L1711.9,354.7 L1709.6,355.7 L1707.3,356.7 L1705.0,357.7 L1702.7,358.6 L1700.3,359.5 L1698.0,360.3 L1695.6,361.2 L1693.3,362.0 L1690.9,362.8 L1688.5,363.6 L1686.1,364.3 L1683.7,365.0 L1681.3,365.8 L1678.9,366.5 L1676.5,367.1 L1674.0,367.8 L1671.6,368.4 L1669.2,369.1 L1666.8,369.7 L1664.3,370.3 L1661.9,370.9 L1659.4,371.5 L1657.0,372.1 L1654.6,372.6 L1652.1,373.2 L1649.7,373.7 L1647.2,374.3 L1644.8,374.8 L1642.3,375.4 L1639.9,375.9 L1637.4,376.4 L1635.0,377.0 L1632.5,377.5 L1630.1,378.0 L1627.6,378.6 L1625.2,379.1 L1622.7,379.7 L1620.3,380.2 L1617.8,380.8 L1615.4,381.4 L1612.9,382.0 L1610.5,382.6 L1608.1,383.2 L1605.6,383.9 L1603.2,384.5 L1600.8,385.2 L1598.4,385.9 L1596.0,386.7 L1593.6,387.4 L1591.2,388.2 L1588.9,389.0 L1586.5,389.9 L1584.1,390.7 L1581.8,391.7 L1579.5,392.6 L1577.2,393.6 L1574.9,394.6 L1572.6,395.7 L1570.4,396.8 L1568.1,397.9 L1565.9,399.1 L1563.7,400.4 L1561.6,401.7 L1559.5,403.0 L1557.4,404.4 L1555.3,405.8 L1553.3,407.3 L1551.3,408.8 L1549.3,410.4 L1547.4,412.0 L1545.4,413.6 L1543.5,415.2 L1541.6,416.8 L1539.7,418.5 L1537.8,420.1 L1535.9,421.8 L1534.0,423.4 L1532.1,425.0 L1530.2,426.7 L1528.3,428.3 L1526.4,429.9 L1524.4,431.4 L1522.4,433.0 L1520.4,434.5 L1518.4,435.9 L1516.3,437.3 L1514.2,438.7 L1512.0,439.9 L1509.8,441.1 L1507.5,442.1 L1505.2,443.1 L1502.8,443.9 L1500.3,444.5 L1497.9,445.0 L1495.4,445.3 L1492.9,445.3 L1490.4,445.3 L1487.9,445.1 L1485.4,444.8 L1482.9,444.4 L1480.4,443.9 L1478.0,443.4 L1475.5,442.8 L1473.1,442.2 L1470.7,441.5 L1468.3,440.9 L1465.8,440.2 L1463.4,439.6 L1461.0,439.0 L1458.5,438.4 L1456.1,437.9 L1453.6,437.4 L1451.1,437.0 L1448.7,436.7 L1446.2,436.5 L1443.6,436.4 L1441.1,436.4 L1438.6,436.5 L1436.1,436.7 L1433.6,436.9 L1431.2,437.3 L1428.7,437.8 L1426.2,438.3 L1423.8,438.9 L1421.4,439.5 L1419.0,440.2 L1416.6,441.0 L1414.2,441.8 L1411.8,442.6 L1409.5,443.5 L1407.1,444.4 L1404.8,445.3 L1402.5,446.3 L1400.2,447.3 L1397.9,448.2 L1395.5,449.2 L1393.2,450.2 L1390.9,451.2 L1388.6,452.2 L1386.3,453.2 L1384.0,454.2 L1381.7,455.2 L1379.4,456.1 L1377.1,457.1 L1374.8,458.1 L1372.5,459.1 L1370.1,460.0 L1367.8,461.0 L1365.5,462.0 L1363.2,462.9 L1360.9,463.9 L1358.6,464.8 L1356.2,465.8 L1353.9,466.8 L1351.6,467.7 L1349.3,468.7 L1347.0,469.6 L1344.6,470.6 L1342.3,471.6 L1340.0,472.5 L1337.7,473.5 L1335.4,474.4 L1333.1,475.4 L1330.7,476.4 L1328.4,477.3 L1326.1,478.3 L1323.8,479.3 L1321.5,480.2 L1319.2,481.2 L1316.9,482.2 L1314.5,483.2 L1312.2,484.2 L1309.9,485.1 L1307.6,486.1 L1305.3,487.1 L1303.0,488.1 L1300.7,489.1 L1298.4,490.1 L1296.1,491.2 L1293.8,492.2 L1291.5,493.2 L1289.2,494.2 L1287.0,495.3 L1284.7,496.3 L1282.4,497.3 L1280.1,498.4 L1277.8,499.5 L1275.6,500.5 L1273.3,501.6 L1271.0,502.7 L1268.8,503.8 L1266.5,504.9 L1264.3,506.0 L1262.0,507.1 L1259.8,508.2 L1257.5,509.3 L1255.3,510.5 L1253.1,511.6 L1250.8,512.8 L1248.6,513.9 L1246.4,515.1 L1244.2,516.3 L1242.0,517.5 L1239.8,518.7 L1237.6,519.9 L1235.4,521.1 L1233.2,522.3 L1231.0,523.6 L1228.8,524.8 L1226.7,526.1 L1224.5,527.4 L1222.4,528.7 L1220.2,530.0 L1218.1,531.3 L1215.9,532.6 L1213.8,533.9 L1211.7,535.3 L1209.6,536.7 L1207.5,538.0 L1205.4,539.4 L1203.3,540.8 L1201.3,542.3 L1199.2,543.7 L1197.2,545.2 L1195.2,546.7 L1193.2,548.2 L1191.2,549.8 L1189.2,551.3 L1187.3,552.9 L1185.4,554.5 L1183.5,556.1 L1181.6,557.8 L1179.7,559.5 L1177.9,561.2 L1176.1,562.9 L1174.3,564.7 L1172.5,566.5 L1170.8,568.3 L1169.1,570.2 L1167.4,572.0 L1165.8,573.9 L1164.2,575.9 L1162.7,577.9 L1161.1,579.8 L1159.6,581.9 L1158.2,583.9 L1156.8,586.0" stroke="#ff0000" stroke-width="4.1" fill="none" stroke-linejoin="round" stroke-linecap="round"/></g><rect x="1106" y="74" width="726" height="585" fill="none" stroke="#000" stroke-width="3.8"/><line x1="1157.9" y1="659" x2="1157.9" y2="670.0" stroke="#000" stroke-width="3.8"/><text x="1157.9" y="716.6" text-anchor="middle">-0.2</text><line x1="1365.3" y1="659" x2="1365.3" y2="670.0" stroke="#000" stroke-width="3.8"/><text x="1365.3" y="716.6" text-anchor="middle">0.0</text><line x1="1572.7" y1="659" x2="1572.7" y2="670.0" stroke="#000" stroke-width="3.8"/><text x="1572.7" y="716.6" text-anchor="middle">0.2</text><line x1="1780.1" y1="659" x2="1780.1" y2="670.0" stroke="#000" stroke-width="3.8"/><text x="1780.1" y="716.6" text-anchor="middle">0.4</text><line x1="1261.6" y1="659" x2="1261.6" y2="664.5" stroke="#000" stroke-width="3.8"/><line x1="1469.0" y1="659" x2="1469.0" y2="664.5" stroke="#000" stroke-width="3.8"/><line x1="1676.4" y1="659" x2="1676.4" y2="664.5" stroke="#000" stroke-width="3.8"/><line x1="1106" y1="659.0" x2="1095.0" y2="659.0" stroke="#000" stroke-width="3.8"/><text x="1086.0" y="673.8" text-anchor="end">-0.4</text><line x1="1106" y1="491.9" x2="1095.0" y2="491.9" stroke="#000" stroke-width="3.8"/><text x="1086.0" y="506.7" text-anchor="end">-0.2</text><line x1="1106" y1="324.7" x2="1095.0" y2="324.7" stroke="#000" stroke-width="3.8"/><text x="1086.0" y="339.5" text-anchor="end">0.0</text><line x1="1106" y1="157.6" x2="1095.0" y2="157.6" stroke="#000" stroke-width="3.8"/><text x="1086.0" y="172.4" text-anchor="end">0.2</text><line x1="1106" y1="575.4" x2="1100.5" y2="575.4" stroke="#000" stroke-width="3.8"/><line x1="1106" y1="408.3" x2="1100.5" y2="408.3" stroke="#000" stroke-width="3.8"/><line x1="1106" y1="241.1" x2="1100.5" y2="241.1" stroke="#000" stroke-width="3.8"/><line x1="1106" y1="74.0" x2="1100.5" y2="74.0" stroke="#000" stroke-width="3.8"/><text x="1127.5" y="133.0" font-size="68">b</text><text x="1330.8" y="766.6"><tspan font-style="italic">E</tspan> / V vs. SCE</text><text transform="translate(1016.4,367.6) rotate(-90)" text-anchor="middle"><tspan font-style="italic">I</tspan> / mA</text><line x1="1534.7" y1="437.2" x2="1633.7" y2="437.2" stroke="#ff0000" stroke-width="4.1" fill="none" stroke-linejoin="round" stroke-linecap="round"/><text x="1659.7" y="455.2">SFCC1</text><line x1="1534.7" y1="497.7" x2="1551.7" y2="497.7" stroke="#000" stroke-width="3.8" stroke-linecap="round"/><line x1="1575.2" y1="497.7" x2="1592.2" y2="497.7" stroke="#000" stroke-width="3.8" stroke-linecap="round"/><line x1="1615.7" y1="497.7" x2="1632.7" y2="497.7" stroke="#000" stroke-width="3.8" stroke-linecap="round"/><text x="1659.7" y="515.7">SFCC2</text><line x1="1535.9" y1="558.2" x2="1537.9" y2="558.2" stroke="#0000ff" stroke-width="4.2" stroke-linecap="round"/><line x1="1559.8" y1="558.2" x2="1561.8" y2="558.2" stroke="#0000ff" stroke-width="4.2" stroke-linecap="round"/><line x1="1583.7" y1="558.2" x2="1585.7" y2="558.2" stroke="#0000ff" stroke-width="4.2" stroke-linecap="round"/><line x1="1607.6" y1="558.2" x2="1609.6" y2="558.2" stroke="#0000ff" stroke-width="4.2" stroke-linecap="round"/><line x1="1631.5" y1="558.2" x2="1633.5" y2="558.2" stroke="#0000ff" stroke-width="4.2" stroke-linecap="round"/><text x="1659.7" y="576.2">SFCC3</text><line x1="1535.3" y1="618.7" x2="1555.1" y2="618.7" stroke="#ff00ff" stroke-width="4.2" stroke-linecap="round"/><line x1="1569.8" y1="618.7" x2="1570.8" y2="618.7" stroke="#ff00ff" stroke-width="4.2" stroke-linecap="round"/><line x1="1586.1" y1="618.7" x2="1605.8" y2="618.7" stroke="#ff00ff" stroke-width="4.2" stroke-linecap="round"/><line x1="1620.8" y1="618.7" x2="1621.8" y2="618.7" stroke="#ff00ff" stroke-width="4.2" stroke-linecap="round"/><text x="1659.7" y="636.7">CC</text></g>
<g><clipPath id="clipc"><rect x="193" y="840" width="725" height="585"/></clipPath><g clip-path="url(#clipc)"><path d="M248.0,1110.5 C290.0,1110.4 433.0,1110.2 500.0,1110.0 C567.0,1109.8 616.7,1109.5 650.0,1109.0 C683.3,1108.5 685.0,1108.2 700.0,1107.0 C715.0,1105.8 729.7,1102.4 740.0,1101.5 C750.3,1100.6 748.7,1101.3 762.0,1101.5 C775.3,1101.7 802.8,1102.2 820.0,1102.5 C837.2,1102.8 868.3,1102.2 865.0,1103.0 C861.7,1103.8 820.8,1106.0 800.0,1107.0 C779.2,1108.0 756.7,1108.5 740.0,1109.0 C723.3,1109.5 723.3,1109.7 700.0,1110.0 C676.7,1110.3 650.0,1110.8 600.0,1111.0 C550.0,1111.2 458.7,1111.0 400.0,1111.0 C341.3,1111.0 273.3,1111.0 248.0,1111.0" stroke="#ff00ff" stroke-width="4.2" fill="none" stroke-dasharray="19.8 14.7 1 15.3" stroke-linecap="round"/><path d="M245.5,1121.6 C249.3,1121.3 260.5,1120.6 268.2,1120.1 C275.9,1119.6 283.9,1118.9 291.7,1118.5 C299.5,1118.1 307.2,1118.0 315.2,1117.8 C323.1,1117.5 331.3,1117.3 339.4,1117.0 C347.5,1116.7 355.6,1116.5 363.7,1116.2 C371.8,1115.9 380.0,1115.7 388.0,1115.4 C396.0,1115.1 403.6,1114.9 411.5,1114.6 C419.4,1114.3 420.9,1114.1 435.7,1113.8 C450.4,1113.5 472.6,1113.3 500.0,1113.0 C527.4,1112.7 576.7,1112.5 600.0,1112.0 C623.3,1111.5 629.4,1110.8 640.0,1110.0 C650.6,1109.2 655.9,1108.0 663.9,1107.0 C671.9,1106.0 680.2,1105.8 687.7,1104.1 C695.2,1102.4 701.5,1100.0 708.7,1096.9 C715.9,1093.8 723.8,1086.3 731.1,1085.3 C738.5,1084.3 745.3,1089.2 752.8,1091.1 C760.3,1093.0 768.2,1095.8 775.9,1096.9 C783.6,1098.0 791.0,1097.5 799.0,1097.6 C807.0,1097.7 815.6,1097.6 823.6,1097.6 C831.6,1097.6 839.7,1097.5 846.7,1097.6 C853.7,1097.7 870.5,1097.3 865.5,1098.3 C860.5,1099.3 832.5,1102.0 816.4,1103.4 C800.3,1104.9 780.4,1106.2 768.7,1107.0 C757.0,1107.8 754.1,1107.4 746.3,1108.4 C738.5,1109.4 729.8,1112.1 721.7,1112.8 C713.6,1113.5 705.8,1112.6 697.8,1112.8 C689.8,1113.0 682.0,1114.2 674.0,1114.2 C666.0,1114.2 662.4,1112.8 650.1,1112.8 C637.8,1112.8 625.0,1113.6 600.0,1114.0 C575.0,1114.4 533.3,1114.6 500.0,1115.0 C466.7,1115.4 433.3,1115.9 400.0,1116.5 C366.7,1117.1 325.8,1117.7 300.0,1118.5 C274.2,1119.3 254.6,1121.1 245.5,1121.6" stroke="#0000ff" stroke-width="4.2" fill="none" stroke-dasharray="2 21.9" stroke-linecap="round"/><path d="M245.7,1192.0 C245.7,1188.9 244.7,1179.0 245.7,1173.4 C246.7,1167.8 248.8,1163.7 251.6,1158.4 C254.4,1153.1 258.0,1146.3 262.6,1141.5 C267.2,1136.7 273.5,1133.2 279.5,1129.6 C285.5,1126.0 292.3,1122.3 298.4,1119.7 C304.5,1117.1 309.8,1115.9 316.2,1113.7 C322.6,1111.5 330.3,1108.4 337.1,1106.7 C343.9,1105.0 350.2,1104.9 357.0,1103.7 C363.8,1102.5 371.3,1100.8 377.9,1099.8 C384.5,1098.8 390.2,1098.3 396.8,1097.8 C403.4,1097.3 411.0,1097.5 417.6,1096.8 C424.2,1096.1 429.9,1094.5 436.5,1093.8 C443.1,1093.1 450.6,1093.0 457.4,1092.8 C464.2,1092.6 470.5,1093.0 477.3,1092.8 C484.1,1092.6 491.6,1092.0 498.2,1091.8 C504.8,1091.6 510.4,1092.0 517.0,1091.8 C523.6,1091.6 531.1,1091.0 537.9,1090.8 C544.7,1090.6 551.0,1090.8 557.8,1090.8 C564.6,1090.8 572.1,1090.8 578.8,1090.6 C585.4,1090.4 591.1,1089.8 597.7,1089.6 C604.3,1089.4 612.0,1089.8 618.6,1089.6 C625.2,1089.4 631.1,1088.9 637.4,1088.6 C643.7,1088.3 650.0,1088.1 656.3,1087.6 C662.6,1087.1 669.6,1086.6 675.2,1085.8 C680.8,1085.0 685.9,1083.7 690.0,1082.5 C694.1,1081.3 696.5,1080.0 700.0,1078.5 C703.5,1077.0 707.8,1075.6 710.8,1073.7 C713.8,1071.8 715.6,1069.4 718.0,1067.0 C720.4,1064.6 721.9,1063.1 725.3,1059.3 C728.7,1055.5 735.0,1048.3 738.3,1044.1 C741.6,1039.9 742.7,1036.8 745.0,1034.0 C747.3,1031.2 749.5,1028.2 752.0,1027.0 C754.5,1025.8 757.3,1026.1 760.0,1026.5 C762.7,1026.9 763.9,1026.7 768.0,1029.6 C772.1,1032.5 778.7,1040.1 784.6,1044.1 C790.5,1048.1 796.8,1051.1 803.4,1053.5 C810.0,1055.9 817.6,1057.4 824.3,1058.5 C831.0,1059.6 837.0,1060.0 843.8,1060.0 C850.5,1060.0 861.2,1056.0 864.8,1058.5 C868.4,1061.0 866.3,1070.6 865.5,1075.0 C864.7,1079.4 862.0,1082.2 860.0,1085.0 C858.0,1087.8 857.3,1089.0 853.2,1091.6 C849.1,1094.2 841.4,1097.8 835.3,1100.6 C829.2,1103.4 822.7,1106.3 816.4,1108.5 C810.1,1110.7 804.1,1111.8 797.5,1113.5 C790.9,1115.2 783.2,1116.8 776.6,1118.5 C770.0,1120.2 764.3,1121.8 757.7,1123.4 C751.1,1125.1 743.4,1127.1 736.8,1128.4 C730.2,1129.7 724.6,1130.9 718.0,1131.4 C711.4,1131.9 703.7,1131.4 697.1,1131.4 C690.5,1131.4 685.0,1131.4 678.2,1131.4 C671.4,1131.4 663.1,1131.4 656.3,1131.4 C649.5,1131.4 644.0,1131.2 637.4,1131.4 C630.8,1131.6 623.2,1132.1 616.6,1132.4 C610.0,1132.7 604.5,1133.1 597.7,1133.4 C590.9,1133.7 582.6,1134.1 575.8,1134.4 C569.0,1134.7 563.6,1135.1 556.9,1135.4 C550.2,1135.8 542.4,1136.0 535.8,1136.5 C529.1,1137.0 523.6,1138.0 517.0,1138.5 C510.4,1139.0 502.7,1139.0 496.1,1139.5 C489.5,1140.0 483.9,1141.0 477.3,1141.5 C470.7,1142.0 463.1,1142.0 456.3,1142.5 C449.5,1143.0 443.3,1143.8 436.5,1144.5 C429.7,1145.2 422.2,1145.8 415.6,1146.5 C409.0,1147.2 403.3,1147.8 396.7,1148.5 C390.1,1149.2 382.4,1149.6 375.8,1150.4 C369.2,1151.2 363.6,1152.2 357.0,1153.4 C350.4,1154.6 342.7,1156.2 336.1,1157.4 C329.5,1158.6 323.6,1158.9 317.2,1160.4 C310.8,1161.9 303.7,1164.2 297.4,1166.4 C291.1,1168.6 285.5,1170.8 279.5,1173.4 C273.5,1176.0 267.2,1179.1 261.6,1182.2 C256.0,1185.3 248.3,1190.5 245.7,1192.2" stroke="#000" stroke-width="3.8" fill="none" stroke-dasharray="17.2 23.3" stroke-linecap="round" stroke-linejoin="round" stroke-dashoffset="22.5"/><path d="M244.5,1376.8 L244.5,1374.3 L244.5,1371.8 L244.6,1369.3 L244.6,1366.8 L244.6,1364.2 L244.7,1361.7 L244.7,1359.2 L244.8,1356.7 L244.8,1354.2 L244.9,1351.7 L244.9,1349.2 L245.0,1346.7 L245.1,1344.2 L245.2,1341.7 L245.2,1339.1 L245.3,1336.6 L245.4,1334.1 L245.5,1331.6 L245.6,1329.1 L245.7,1326.6 L245.8,1324.1 L245.9,1321.6 L246.0,1319.1 L246.1,1316.6 L246.3,1314.1 L246.4,1311.5 L246.5,1309.0 L246.7,1306.5 L246.8,1304.0 L246.9,1301.5 L247.1,1299.0 L247.2,1296.5 L247.4,1294.0 L247.5,1291.5 L247.7,1289.0 L247.9,1286.5 L248.0,1284.0 L248.2,1281.5 L248.4,1279.0 L248.6,1276.5 L248.7,1274.0 L248.9,1271.4 L249.1,1268.9 L249.3,1266.4 L249.5,1263.9 L249.7,1261.4 L249.9,1258.9 L250.1,1256.4 L250.3,1253.9 L250.6,1251.4 L250.8,1248.9 L251.0,1246.4 L251.2,1243.9 L251.4,1241.4 L251.7,1238.9 L251.9,1236.4 L252.1,1233.9 L252.4,1231.4 L252.6,1228.9 L252.9,1226.4 L253.1,1223.9 L253.4,1221.4 L253.6,1218.9 L253.9,1216.4 L254.2,1213.9 L254.4,1211.4 L254.7,1208.9 L255.0,1206.4 L255.2,1203.9 L255.5,1201.4 L255.8,1198.9 L256.1,1196.5 L256.3,1194.0 L256.6,1191.5 L256.9,1189.0 L257.2,1186.5 L257.5,1184.0 L257.8,1181.5 L258.1,1179.0 L258.4,1176.5 L258.7,1174.0 L259.0,1171.5 L259.3,1169.0 L259.6,1166.5 L259.9,1164.0 L260.2,1161.5 L260.6,1159.1 L260.9,1156.6 L261.2,1154.1 L261.6,1151.6 L261.9,1149.1 L262.3,1146.6 L262.7,1144.1 L263.0,1141.7 L263.4,1139.2 L263.8,1136.7 L264.2,1134.2 L264.6,1131.7 L265.1,1129.3 L265.5,1126.8 L266.0,1124.3 L266.4,1121.9 L266.9,1119.4 L267.4,1116.9 L267.9,1114.5 L268.5,1112.0 L269.0,1109.6 L269.6,1107.1 L270.2,1104.7 L270.8,1102.2 L271.4,1099.8 L272.0,1097.4 L272.7,1095.0 L273.4,1092.5 L274.1,1090.1 L274.8,1087.7 L275.5,1085.3 L276.3,1082.9 L277.1,1080.6 L277.9,1078.2 L278.8,1075.8 L279.6,1073.5 L280.5,1071.1 L281.4,1068.8 L282.4,1066.5 L283.4,1064.1 L284.4,1061.8 L285.4,1059.5 L286.5,1057.3 L287.5,1055.0 L288.6,1052.7 L289.8,1050.5 L291.0,1048.3 L292.2,1046.1 L293.4,1043.9 L294.7,1041.7 L296.0,1039.6 L297.3,1037.4 L298.6,1035.3 L300.0,1033.2 L301.4,1031.2 L302.9,1029.1 L304.4,1027.1 L305.9,1025.1 L307.4,1023.1 L309.0,1021.2 L310.6,1019.2 L312.3,1017.3 L314.0,1015.5 L315.7,1013.6 L317.4,1011.8 L319.2,1010.1 L321.0,1008.3 L322.9,1006.6 L324.7,1005.0 L326.7,1003.3 L328.6,1001.7 L330.6,1000.2 L332.6,998.7 L334.6,997.3 L336.7,995.8 L338.8,994.5 L341.0,993.1 L343.1,991.8 L345.3,990.6 L347.5,989.4 L349.7,988.2 L351.9,987.0 L354.2,985.9 L356.5,984.9 L358.7,983.8 L361.0,982.8 L363.4,981.9 L365.7,980.9 L368.0,980.0 L370.4,979.1 L372.7,978.3 L375.1,977.5 L377.5,976.7 L379.9,975.9 L382.3,975.2 L384.7,974.5 L387.1,973.8 L389.5,973.1 L392.0,972.5 L394.4,971.8 L396.8,971.3 L399.3,970.7 L401.7,970.1 L404.2,969.6 L406.7,969.1 L409.1,968.7 L411.6,968.2 L414.1,967.8 L416.5,967.4 L419.0,967.0 L421.5,966.6 L424.0,966.3 L426.5,966.0 L429.0,965.7 L431.5,965.4 L434.0,965.2 L436.5,964.9 L439.0,964.7 L441.5,964.5 L444.0,964.3 L446.5,964.2 L449.0,964.1 L451.5,963.9 L454.0,963.9 L456.5,963.8 L459.0,963.7 L461.6,963.7 L464.1,963.7 L466.6,963.6 L469.1,963.7 L471.6,963.7 L474.1,963.7 L476.6,963.8 L479.1,963.9 L481.6,964.0 L484.1,964.1 L486.7,964.2 L489.2,964.3 L491.7,964.5 L494.2,964.6 L496.7,964.8 L499.2,965.0 L501.7,965.2 L504.2,965.4 L506.7,965.7 L509.2,965.9 L511.7,966.2 L514.2,966.4 L516.7,966.7 L519.2,967.0 L521.7,967.3 L524.2,967.6 L526.7,967.9 L529.1,968.3 L531.6,968.6 L534.1,968.9 L536.6,969.3 L539.1,969.7 L541.6,970.0 L544.1,970.4 L546.5,970.8 L549.0,971.2 L551.5,971.6 L554.0,972.0 L556.5,972.4 L558.9,972.8 L561.4,973.2 L563.9,973.6 L566.4,974.1 L568.8,974.5 L571.3,974.9 L573.8,975.3 L576.3,975.8 L578.7,976.2 L581.2,976.6 L583.7,977.1 L586.1,977.5 L588.6,978.0 L591.1,978.4 L593.6,978.8 L596.0,979.3 L598.5,979.7 L601.0,980.1 L603.5,980.5 L605.9,980.9 L608.4,981.3 L610.9,981.7 L613.4,982.1 L615.9,982.4 L618.4,982.8 L620.9,983.1 L623.3,983.4 L625.8,983.7 L628.3,983.9 L630.8,984.1 L633.3,984.4 L635.8,984.5 L638.4,984.7 L640.9,984.8 L643.4,984.9 L645.9,985.0 L648.4,985.0 L650.9,985.0 L653.4,985.0 L655.9,984.9 L658.4,984.8 L660.9,984.6 L663.4,984.4 L665.9,984.1 L668.4,983.7 L670.9,983.3 L673.3,982.7 L675.8,982.1 L678.2,981.4 L680.6,980.6 L682.9,979.7 L685.2,978.8 L687.5,977.8 L689.8,976.7 L692.0,975.5 L694.3,974.3 L696.4,973.1 L698.6,971.8 L700.7,970.4 L702.8,969.0 L704.8,967.5 L706.8,966.0 L708.8,964.5 L710.7,962.9 L712.6,961.3 L714.5,959.6 L716.4,957.9 L718.2,956.2 L720.0,954.4 L721.7,952.6 L723.4,950.8 L725.1,948.9 L726.8,947.0 L728.4,945.1 L730.0,943.1 L731.5,941.2 L733.1,939.2 L734.6,937.2 L736.0,935.1 L737.5,933.1 L738.9,931.0 L740.2,928.9 L741.6,926.8 L742.9,924.7 L744.3,922.5 L745.7,920.4 L747.1,918.3 L748.5,916.3 L749.9,914.2 L751.5,912.2 L753.0,910.3 L754.7,908.4 L756.5,906.7 L758.5,905.1 L760.7,904.0 L763.2,903.5 L765.7,903.9 L768.0,904.9 L770.0,906.3 L771.9,907.9 L773.7,909.7 L775.3,911.6 L776.9,913.6 L778.3,915.6 L779.8,917.7 L781.2,919.7 L782.6,921.8 L784.1,923.9 L785.6,925.9 L787.1,927.9 L788.8,929.8 L790.5,931.6 L792.3,933.3 L794.3,934.8 L796.5,936.1 L798.8,937.2 L801.1,938.0 L803.6,938.5 L806.1,938.8 L808.6,938.9 L811.1,938.8 L813.6,938.4 L816.0,938.0 L818.5,937.3 L820.9,936.6 L823.2,935.7 L825.5,934.7 L827.8,933.7 L830.0,932.5 L832.2,931.2 L834.3,929.9 L836.4,928.5 L838.4,927.0 L840.4,925.5 L842.3,923.9 L844.2,922.2 L846.0,920.4 L847.8,918.6 L849.4,916.8 L851.1,914.9 L852.7,912.9 L854.2,910.9 L855.7,908.9 L857.1,906.8 L858.6,904.8 L860.0,902.7 L861.4,900.6 L862.8,898.5 L864.2,896.4 L865.6,894.4 L867.0,892.3" stroke="#ff0000" stroke-width="4.1" fill="none" stroke-linejoin="round" stroke-linecap="round"/><path d="M867.0,892.3 L867.0,894.8 L867.1,897.3 L867.1,899.8 L867.1,902.3 L867.1,904.8 L867.1,907.4 L867.1,909.9 L867.0,912.4 L867.0,914.9 L867.0,917.4 L866.9,919.9 L866.8,922.4 L866.8,924.9 L866.7,927.4 L866.6,929.9 L866.5,932.4 L866.4,935.0 L866.3,937.5 L866.2,940.0 L866.0,942.5 L865.9,945.0 L865.8,947.5 L865.6,950.0 L865.4,952.5 L865.3,955.0 L865.1,957.5 L864.9,960.0 L864.7,962.5 L864.5,965.0 L864.3,967.5 L864.1,970.0 L863.8,972.5 L863.6,975.0 L863.4,977.5 L863.1,980.0 L862.9,982.5 L862.6,985.0 L862.3,987.5 L862.0,990.0 L861.8,992.5 L861.5,995.0 L861.2,997.5 L860.9,1000.0 L860.5,1002.4 L860.2,1004.9 L859.9,1007.4 L859.6,1009.9 L859.2,1012.4 L858.9,1014.9 L858.5,1017.4 L858.2,1019.9 L857.8,1022.3 L857.4,1024.8 L857.0,1027.3 L856.6,1029.8 L856.3,1032.3 L855.8,1034.7 L855.4,1037.2 L855.0,1039.7 L854.5,1042.2 L854.1,1044.6 L853.6,1047.1 L853.1,1049.5 L852.6,1052.0 L852.0,1054.4 L851.5,1056.9 L850.9,1059.3 L850.3,1061.8 L849.6,1064.2 L849.0,1066.6 L848.3,1069.0 L847.5,1071.4 L846.8,1073.8 L846.0,1076.2 L845.2,1078.6 L844.3,1080.9 L843.4,1083.3 L842.5,1085.6 L841.5,1087.9 L840.5,1090.2 L839.4,1092.5 L838.3,1094.7 L837.2,1097.0 L836.0,1099.2 L834.8,1101.4 L833.5,1103.6 L832.3,1105.7 L830.9,1107.8 L829.5,1109.9 L828.1,1112.0 L826.7,1114.1 L825.2,1116.1 L823.6,1118.1 L822.1,1120.0 L820.5,1122.0 L818.8,1123.8 L817.1,1125.7 L815.4,1127.5 L813.6,1129.3 L811.8,1131.1 L810.0,1132.8 L808.1,1134.4 L806.2,1136.1 L804.3,1137.6 L802.3,1139.2 L800.3,1140.7 L798.2,1142.2 L796.2,1143.6 L794.1,1145.0 L792.0,1146.3 L789.8,1147.6 L787.7,1148.9 L785.5,1150.2 L783.3,1151.4 L781.1,1152.6 L778.9,1153.7 L776.6,1154.8 L774.3,1155.9 L772.1,1157.0 L769.8,1158.0 L767.5,1159.1 L765.2,1160.1 L762.9,1161.0 L760.6,1162.0 L758.2,1162.9 L755.9,1163.9 L753.6,1164.8 L751.2,1165.6 L748.9,1166.5 L746.5,1167.3 L744.1,1168.1 L741.7,1168.9 L739.3,1169.7 L736.9,1170.3 L734.5,1171.0 L732.1,1171.6 L729.6,1172.1 L727.1,1172.6 L724.7,1173.1 L722.2,1173.5 L719.7,1173.9 L717.2,1174.2 L714.7,1174.5 L712.2,1174.8 L709.7,1175.0 L707.2,1175.3 L704.7,1175.5 L702.2,1175.7 L699.7,1175.9 L697.2,1176.1 L694.7,1176.3 L692.2,1176.5 L689.7,1176.7 L687.2,1176.9 L684.7,1177.1 L682.2,1177.4 L679.7,1177.6 L677.2,1177.9 L674.8,1178.2 L672.3,1178.5 L669.8,1178.8 L667.3,1179.2 L664.8,1179.5 L662.3,1179.9 L659.8,1180.3 L657.4,1180.7 L654.9,1181.1 L652.4,1181.6 L649.9,1182.0 L647.5,1182.5 L645.0,1183.0 L642.6,1183.4 L640.1,1183.9 L637.6,1184.5 L635.2,1185.0 L632.7,1185.5 L630.3,1186.1 L627.8,1186.7 L625.4,1187.3 L623.0,1187.9 L620.5,1188.5 L618.1,1189.1 L615.7,1189.7 L613.2,1190.4 L610.8,1191.0 L608.4,1191.7 L606.0,1192.4 L603.6,1193.1 L601.2,1193.8 L598.8,1194.5 L596.4,1195.2 L594.0,1195.9 L591.6,1196.7 L589.2,1197.4 L586.8,1198.2 L584.4,1199.0 L582.0,1199.8 L579.6,1200.6 L577.3,1201.4 L574.9,1202.2 L572.5,1203.0 L570.1,1203.8 L567.8,1204.7 L565.4,1205.5 L563.0,1206.4 L560.7,1207.2 L558.3,1208.1 L556.0,1209.0 L553.6,1209.9 L551.3,1210.8 L548.9,1211.7 L546.6,1212.6 L544.3,1213.5 L541.9,1214.4 L539.6,1215.3 L537.3,1216.3 L534.9,1217.2 L532.6,1218.1 L530.3,1219.1 L528.0,1220.0 L525.7,1221.0 L523.3,1222.0 L521.0,1222.9 L518.7,1223.9 L516.4,1224.9 L514.1,1225.9 L511.8,1226.9 L509.5,1227.8 L507.2,1228.8 L504.9,1229.8 L502.6,1230.8 L500.3,1231.8 L498.0,1232.9 L495.7,1233.9 L493.4,1234.9 L491.1,1235.9 L488.8,1236.9 L486.5,1237.9 L484.2,1239.0 L481.9,1240.0 L479.6,1241.0 L477.3,1242.0 L475.0,1243.1 L472.8,1244.1 L470.5,1245.1 L468.2,1246.2 L465.9,1247.2 L463.6,1248.3 L461.3,1249.3 L459.0,1250.3 L456.8,1251.4 L454.5,1252.4 L452.2,1253.5 L449.9,1254.5 L447.6,1255.6 L445.4,1256.7 L443.1,1257.7 L440.8,1258.8 L438.5,1259.8 L436.3,1260.9 L434.0,1262.0 L431.7,1263.0 L429.5,1264.1 L427.2,1265.2 L424.9,1266.3 L422.7,1267.3 L420.4,1268.4 L418.1,1269.5 L415.9,1270.6 L413.6,1271.7 L411.3,1272.8 L409.1,1273.8 L406.8,1274.9 L404.6,1276.0 L402.3,1277.1 L400.1,1278.2 L397.8,1279.3 L395.5,1280.4 L393.3,1281.6 L391.0,1282.7 L388.8,1283.8 L386.6,1284.9 L384.3,1286.0 L382.1,1287.1 L379.8,1288.3 L377.6,1289.4 L375.3,1290.5 L373.1,1291.7 L370.9,1292.8 L368.6,1293.9 L366.4,1295.1 L364.2,1296.2 L361.9,1297.4 L359.7,1298.5 L357.5,1299.7 L355.2,1300.8 L353.0,1302.0 L350.8,1303.2 L348.6,1304.3 L346.3,1305.5 L344.1,1306.7 L341.9,1307.8 L339.7,1309.0 L337.5,1310.2 L335.3,1311.4 L333.1,1312.6 L330.8,1313.8 L328.6,1315.0 L326.4,1316.2 L324.2,1317.4 L322.0,1318.6 L319.8,1319.8 L317.6,1321.0 L315.4,1322.2 L313.2,1323.4 L311.0,1324.6 L308.8,1325.9 L306.7,1327.1 L304.5,1328.3 L302.3,1329.6 L300.1,1330.8 L297.9,1332.1 L295.8,1333.3 L293.6,1334.6 L291.5,1335.9 L289.3,1337.2 L287.2,1338.5 L285.1,1339.9 L283.0,1341.2 L280.9,1342.6 L278.8,1344.0 L276.7,1345.5 L274.7,1346.9 L272.7,1348.4 L270.7,1349.9 L268.7,1351.5 L266.8,1353.1 L264.8,1354.7 L262.9,1356.3 L261.1,1358.0 L259.2,1359.7 L257.4,1361.5 L255.7,1363.3 L254.0,1365.1 L252.3,1367.0 L250.6,1368.9 L249.0,1370.8 L247.5,1372.8 L246.0,1374.8 L244.5,1376.8" stroke="#ff0000" stroke-width="4.1" fill="none" stroke-linejoin="round" stroke-linecap="round"/></g><rect x="193" y="840" width="725" height="585" fill="none" stroke="#000" stroke-width="3.8"/><line x1="244.8" y1="1425" x2="244.8" y2="1436.0" stroke="#000" stroke-width="3.8"/><text x="244.8" y="1482.6" text-anchor="middle">-0.2</text><line x1="451.9" y1="1425" x2="451.9" y2="1436.0" stroke="#000" stroke-width="3.8"/><text x="451.9" y="1482.6" text-anchor="middle">0.0</text><line x1="659.1" y1="1425" x2="659.1" y2="1436.0" stroke="#000" stroke-width="3.8"/><text x="659.1" y="1482.6" text-anchor="middle">0.2</text><line x1="866.2" y1="1425" x2="866.2" y2="1436.0" stroke="#000" stroke-width="3.8"/><text x="866.2" y="1482.6" text-anchor="middle">0.4</text><line x1="348.4" y1="1425" x2="348.4" y2="1430.5" stroke="#000" stroke-width="3.8"/><line x1="555.5" y1="1425" x2="555.5" y2="1430.5" stroke="#000" stroke-width="3.8"/><line x1="762.6" y1="1425" x2="762.6" y2="1430.5" stroke="#000" stroke-width="3.8"/><line x1="193" y1="1290.0" x2="182.0" y2="1290.0" stroke="#000" stroke-width="3.8"/><text x="173.0" y="1304.8" text-anchor="end">-0.2</text><line x1="193" y1="1110.0" x2="182.0" y2="1110.0" stroke="#000" stroke-width="3.8"/><text x="173.0" y="1124.8" text-anchor="end">0.0</text><line x1="193" y1="930.0" x2="182.0" y2="930.0" stroke="#000" stroke-width="3.8"/><text x="173.0" y="944.8" text-anchor="end">0.2</text><line x1="193" y1="1380.0" x2="187.5" y2="1380.0" stroke="#000" stroke-width="3.8"/><line x1="193" y1="1200.0" x2="187.5" y2="1200.0" stroke="#000" stroke-width="3.8"/><line x1="193" y1="1020.0" x2="187.5" y2="1020.0" stroke="#000" stroke-width="3.8"/><line x1="193" y1="840.0" x2="187.5" y2="840.0" stroke="#000" stroke-width="3.8"/><text x="214.0" y="900.0" font-size="68">c</text><text x="417.4" y="1539.1"><tspan font-style="italic">E</tspan> / V vs. SCE</text><text transform="translate(98.3,1101.5) rotate(-90)" text-anchor="middle"><tspan font-style="italic">I</tspan> / mA</text><line x1="628.4" y1="1205.4" x2="727.4" y2="1205.4" stroke="#ff0000" stroke-width="4.1" fill="none" stroke-linejoin="round" stroke-linecap="round"/><text x="753.4" y="1223.4">SFCC1</text><line x1="628.4" y1="1265.9" x2="645.4" y2="1265.9" stroke="#000" stroke-width="3.8" stroke-linecap="round"/><line x1="668.9" y1="1265.9" x2="685.9" y2="1265.9" stroke="#000" stroke-width="3.8" stroke-linecap="round"/><line x1="709.4" y1="1265.9" x2="726.4" y2="1265.9" stroke="#000" stroke-width="3.8" stroke-linecap="round"/><text x="753.4" y="1283.9">SFCC2</text><line x1="629.6" y1="1326.4" x2="631.6" y2="1326.4" stroke="#0000ff" stroke-width="4.2" stroke-linecap="round"/><line x1="653.5" y1="1326.4" x2="655.5" y2="1326.4" stroke="#0000ff" stroke-width="4.2" stroke-linecap="round"/><line x1="677.4" y1="1326.4" x2="679.4" y2="1326.4" stroke="#0000ff" stroke-width="4.2" stroke-linecap="round"/><line x1="701.3" y1="1326.4" x2="703.3" y2="1326.4" stroke="#0000ff" stroke-width="4.2" stroke-linecap="round"/><line x1="725.2" y1="1326.4" x2="727.2" y2="1326.4" stroke="#0000ff" stroke-width="4.2" stroke-linecap="round"/><text x="753.4" y="1344.4">SFCC3</text><line x1="629.0" y1="1386.9" x2="648.8" y2="1386.9" stroke="#ff00ff" stroke-width="4.2" stroke-linecap="round"/><line x1="663.5" y1="1386.9" x2="664.5" y2="1386.9" stroke="#ff00ff" stroke-width="4.2" stroke-linecap="round"/><line x1="679.8" y1="1386.9" x2="699.5" y2="1386.9" stroke="#ff00ff" stroke-width="4.2" stroke-linecap="round"/><line x1="714.5" y1="1386.9" x2="715.5" y2="1386.9" stroke="#ff00ff" stroke-width="4.2" stroke-linecap="round"/><text x="753.4" y="1404.9">CC</text></g>
<g><clipPath id="clipd"><rect x="1110" y="840" width="726" height="585"/></clipPath><g clip-path="url(#clipd)"><path d="M1165.7,1114.5 C1188.1,1114.4 1261.0,1114.3 1300.0,1114.0 C1339.0,1113.7 1378.3,1114.1 1400.0,1112.5 C1421.7,1110.9 1421.3,1107.0 1430.0,1104.5 C1438.7,1102.0 1444.0,1100.6 1452.0,1097.6 C1460.0,1094.6 1469.9,1089.6 1477.9,1086.6 C1485.9,1083.6 1491.7,1082.0 1499.8,1079.7 C1507.9,1077.4 1518.5,1074.4 1526.6,1072.7 C1534.7,1071.0 1540.0,1070.5 1548.5,1069.7 C1557.0,1068.9 1568.8,1068.3 1577.3,1067.8 C1585.8,1067.3 1590.9,1068.0 1599.2,1066.8 C1607.5,1065.6 1618.7,1062.6 1627.0,1060.8 C1635.3,1059.0 1640.6,1056.3 1648.9,1055.8 C1657.2,1055.3 1668.4,1057.0 1676.7,1057.8 C1685.0,1058.6 1690.0,1060.0 1698.5,1060.8 C1707.0,1061.6 1718.9,1062.1 1727.4,1062.8 C1735.9,1063.5 1739.9,1064.3 1749.3,1064.8 C1758.7,1065.3 1781.9,1064.3 1784.0,1066.0 C1786.1,1067.7 1769.0,1072.6 1762.0,1074.7 C1755.0,1076.8 1751.9,1077.0 1742.3,1078.7 C1732.7,1080.4 1713.1,1083.4 1704.5,1084.7 C1695.9,1086.0 1696.6,1085.6 1690.6,1086.6 C1684.6,1087.6 1677.0,1089.1 1668.7,1090.6 C1660.4,1092.1 1649.2,1094.4 1640.9,1095.6 C1632.6,1096.8 1627.5,1096.8 1619.0,1097.6 C1610.5,1098.4 1598.7,1099.8 1590.2,1100.5 C1581.8,1101.2 1576.6,1101.0 1568.3,1101.5 C1560.0,1102.0 1548.8,1102.7 1540.5,1103.5 C1532.2,1104.3 1527.0,1105.7 1518.6,1106.5 C1510.1,1107.3 1498.2,1107.8 1489.8,1108.5 C1481.4,1109.2 1477.0,1110.0 1468.0,1110.5 C1459.0,1111.0 1450.7,1111.1 1436.0,1111.5 C1421.3,1111.9 1402.7,1112.5 1380.0,1113.0 C1357.3,1113.5 1335.7,1114.0 1300.0,1114.3 C1264.3,1114.6 1188.1,1114.7 1165.7,1114.8" stroke="#ff00ff" stroke-width="4.2" fill="none" stroke-dasharray="19.8 14.7 1 15.3" stroke-linecap="round"/><path d="M1166.0,1121.0 C1171.7,1120.8 1186.0,1120.3 1200.0,1120.0 C1214.0,1119.7 1235.0,1119.4 1250.0,1119.0 C1265.0,1118.6 1279.9,1118.7 1290.0,1117.5 C1300.1,1116.3 1303.4,1114.0 1310.8,1112.0 C1318.2,1110.0 1326.6,1107.2 1334.6,1105.5 C1342.5,1103.8 1350.4,1102.5 1358.5,1101.5 C1366.6,1100.5 1375.5,1100.2 1383.4,1099.6 C1391.4,1098.9 1398.4,1098.4 1406.2,1097.6 C1414.0,1096.8 1422.0,1095.6 1430.0,1094.6 C1438.0,1093.6 1446.0,1092.8 1454.0,1091.6 C1462.0,1090.4 1470.1,1088.9 1477.9,1087.6 C1485.7,1086.3 1493.0,1085.0 1500.8,1083.7 C1508.6,1082.4 1516.6,1080.5 1524.6,1079.7 C1532.5,1078.9 1540.5,1079.0 1548.5,1078.7 C1556.5,1078.4 1564.3,1078.4 1572.3,1077.7 C1580.2,1077.0 1588.4,1076.0 1596.2,1074.7 C1604.0,1073.4 1611.5,1071.9 1619.0,1069.7 C1626.5,1067.5 1633.4,1063.1 1640.9,1061.8 C1648.4,1060.5 1656.0,1061.1 1663.8,1061.8 C1671.6,1062.5 1679.6,1065.0 1687.6,1065.8 C1695.5,1066.6 1703.5,1066.6 1711.5,1066.8 C1719.5,1067.0 1727.2,1067.0 1735.3,1066.8 C1743.4,1066.6 1752.2,1066.0 1760.2,1065.8 C1768.2,1065.6 1782.8,1064.3 1783.1,1065.8 C1783.4,1067.3 1773.5,1071.7 1762.2,1074.7 C1750.9,1077.7 1727.3,1081.7 1715.5,1083.7 C1703.7,1085.7 1699.5,1085.4 1691.6,1086.6 C1683.6,1087.8 1675.6,1089.3 1667.8,1090.6 C1660.0,1091.9 1656.7,1093.1 1644.9,1094.6 C1633.1,1096.1 1609.1,1098.6 1597.2,1099.6 C1585.3,1100.6 1581.2,1100.0 1573.3,1100.5 C1565.3,1101.0 1557.5,1101.8 1549.5,1102.5 C1541.5,1103.2 1533.6,1103.7 1525.6,1104.5 C1517.6,1105.3 1509.7,1106.8 1501.7,1107.5 C1493.8,1108.2 1485.9,1108.2 1477.9,1108.5 C1470.0,1108.8 1466.0,1108.8 1454.0,1109.5 C1442.0,1110.2 1418.1,1112.0 1406.2,1112.5 C1394.3,1113.0 1390.4,1112.2 1382.4,1112.5 C1374.5,1112.8 1366.5,1114.0 1358.5,1114.5 C1350.5,1115.0 1342.5,1115.2 1334.6,1115.5 C1326.6,1115.8 1324.9,1115.9 1310.8,1116.5 C1296.7,1117.1 1268.5,1118.3 1250.0,1119.0 C1231.5,1119.7 1214.0,1120.1 1200.0,1120.5 C1186.0,1120.9 1171.7,1121.2 1166.0,1121.4" stroke="#0000ff" stroke-width="4.2" fill="none" stroke-dasharray="2 21.9" stroke-linecap="round"/><path d="M1163.0,1203.0 C1162.8,1202.5 1161.7,1203.2 1162.0,1200.0 C1162.3,1196.8 1163.5,1189.7 1165.0,1183.5 C1166.5,1177.3 1168.2,1168.8 1170.7,1162.9 C1173.2,1157.0 1176.3,1153.1 1179.9,1148.0 C1183.5,1142.9 1187.6,1137.0 1192.5,1132.4 C1197.4,1127.8 1203.3,1124.2 1209.4,1120.4 C1215.5,1116.6 1223.0,1112.0 1229.3,1109.5 C1235.6,1107.0 1240.6,1106.8 1247.2,1105.5 C1253.8,1104.2 1262.4,1102.8 1269.0,1101.5 C1275.6,1100.2 1280.0,1099.2 1287.0,1097.6 C1294.0,1095.9 1303.9,1093.8 1310.8,1091.6 C1317.7,1089.4 1322.6,1087.5 1328.6,1084.7 C1334.6,1081.9 1340.3,1077.9 1346.6,1074.7 C1352.9,1071.5 1360.0,1068.5 1366.4,1065.8 C1372.9,1063.1 1378.8,1060.5 1385.3,1058.8 C1391.8,1057.1 1398.7,1057.1 1405.2,1055.8 C1411.7,1054.5 1417.6,1052.6 1424.1,1050.9 C1430.6,1049.2 1437.5,1047.7 1444.0,1045.9 C1450.5,1044.1 1457.3,1042.7 1462.9,1039.9 C1468.5,1037.1 1472.7,1032.8 1477.8,1029.0 C1482.9,1025.2 1488.3,1021.4 1493.8,1017.1 C1499.3,1012.8 1506.3,1006.3 1510.7,1003.1 C1515.1,999.9 1516.8,999.3 1520.0,998.0 C1523.2,996.7 1525.2,994.5 1529.6,995.2 C1534.0,995.9 1541.2,999.0 1546.5,1002.1 C1551.8,1005.2 1555.8,1010.1 1561.4,1014.1 C1567.0,1018.1 1574.0,1022.9 1580.3,1026.0 C1586.6,1029.2 1594.4,1031.7 1599.2,1033.0 C1604.0,1034.3 1605.7,1034.0 1609.0,1034.0 C1612.3,1034.0 1614.7,1034.5 1619.0,1033.0 C1623.3,1031.5 1629.8,1029.0 1635.0,1025.0 C1640.2,1021.0 1645.4,1014.2 1649.9,1009.1 C1654.4,1004.0 1658.1,998.2 1661.8,994.2 C1665.5,990.2 1668.8,986.5 1672.0,985.0 C1675.2,983.5 1676.9,983.2 1680.7,985.2 C1684.5,987.2 1689.8,992.4 1694.6,997.2 C1699.4,1002.0 1704.2,1009.6 1709.5,1014.1 C1714.8,1018.6 1719.9,1021.5 1726.4,1024.0 C1732.9,1026.5 1741.5,1027.8 1748.3,1029.0 C1755.1,1030.2 1762.1,1030.2 1767.2,1031.0 C1772.3,1031.8 1776.2,1030.7 1779.0,1034.0 C1781.8,1037.3 1784.7,1046.3 1784.0,1051.0 C1783.3,1055.7 1778.6,1059.4 1775.0,1062.0 C1771.4,1064.6 1767.2,1064.7 1762.2,1066.8 C1757.2,1068.9 1751.6,1072.5 1745.3,1074.7 C1739.0,1076.9 1730.4,1078.0 1724.4,1079.7 C1718.4,1081.4 1715.8,1082.9 1709.5,1084.7 C1703.2,1086.5 1693.5,1088.4 1686.6,1090.6 C1679.6,1092.8 1674.2,1095.4 1667.8,1097.6 C1661.3,1099.8 1654.4,1102.0 1647.9,1103.5 C1641.4,1105.0 1635.8,1105.8 1629.0,1106.5 C1622.2,1107.2 1613.7,1107.0 1607.1,1107.5 C1600.5,1108.0 1595.7,1108.7 1589.2,1109.5 C1582.7,1110.3 1574.8,1110.8 1568.3,1112.5 C1561.8,1114.2 1556.5,1116.4 1550.5,1119.4 C1544.5,1122.4 1538.6,1127.1 1532.6,1130.4 C1526.6,1133.7 1519.6,1137.4 1514.7,1139.3 C1509.8,1141.2 1506.5,1141.7 1503.0,1142.0 C1499.5,1142.3 1498.5,1142.1 1493.8,1141.3 C1489.1,1140.5 1481.5,1138.3 1474.9,1137.3 C1468.3,1136.3 1460.8,1135.6 1454.0,1135.3 C1447.2,1135.0 1440.6,1135.1 1434.0,1135.3 C1427.4,1135.5 1420.8,1135.8 1414.2,1136.3 C1407.6,1136.8 1400.9,1137.6 1394.3,1138.3 C1387.7,1139.0 1381.0,1139.5 1374.4,1140.3 C1367.8,1141.1 1361.1,1142.3 1354.5,1143.3 C1347.9,1144.3 1341.2,1145.1 1334.6,1146.3 C1328.0,1147.5 1321.4,1149.3 1314.8,1150.3 C1308.2,1151.3 1301.5,1151.0 1294.9,1152.2 C1288.3,1153.4 1281.6,1155.9 1275.0,1157.2 C1268.4,1158.5 1261.7,1158.9 1255.1,1160.2 C1248.5,1161.5 1241.5,1163.6 1235.2,1165.2 C1228.9,1166.8 1223.5,1167.8 1217.4,1170.1 C1211.3,1172.4 1204.2,1175.9 1198.5,1179.1 C1192.8,1182.3 1187.9,1185.5 1183.3,1189.3 C1178.7,1193.1 1174.1,1199.6 1170.7,1201.9 C1167.3,1204.2 1164.3,1202.8 1163.0,1203.0" stroke="#000" stroke-width="3.8" fill="none" stroke-dasharray="17.2 23.3" stroke-linecap="round" stroke-linejoin="round" stroke-dashoffset="38.5"/><path d="M1161.5,1361.1 L1161.5,1358.6 L1161.6,1356.1 L1161.7,1353.6 L1161.7,1351.1 L1161.8,1348.5 L1161.8,1346.0 L1161.9,1343.5 L1162.0,1341.0 L1162.1,1338.5 L1162.2,1336.0 L1162.2,1333.5 L1162.3,1331.0 L1162.4,1328.5 L1162.5,1325.9 L1162.6,1323.4 L1162.7,1320.9 L1162.8,1318.4 L1162.9,1315.9 L1163.1,1313.4 L1163.2,1310.9 L1163.3,1308.4 L1163.4,1305.9 L1163.6,1303.4 L1163.7,1300.9 L1163.8,1298.3 L1164.0,1295.8 L1164.1,1293.3 L1164.3,1290.8 L1164.4,1288.3 L1164.6,1285.8 L1164.7,1283.3 L1164.9,1280.8 L1165.0,1278.3 L1165.2,1275.8 L1165.4,1273.3 L1165.6,1270.8 L1165.7,1268.3 L1165.9,1265.8 L1166.1,1263.3 L1166.3,1260.8 L1166.5,1258.2 L1166.7,1255.7 L1166.9,1253.2 L1167.1,1250.7 L1167.3,1248.2 L1167.5,1245.7 L1167.7,1243.2 L1167.9,1240.7 L1168.1,1238.2 L1168.3,1235.7 L1168.6,1233.2 L1168.8,1230.7 L1169.0,1228.2 L1169.2,1225.7 L1169.5,1223.2 L1169.7,1220.7 L1169.9,1218.2 L1170.2,1215.7 L1170.4,1213.2 L1170.7,1210.7 L1170.9,1208.2 L1171.2,1205.7 L1171.4,1203.2 L1171.7,1200.7 L1172.0,1198.2 L1172.2,1195.7 L1172.5,1193.2 L1172.8,1190.7 L1173.0,1188.2 L1173.3,1185.7 L1173.6,1183.2 L1173.9,1180.7 L1174.2,1178.2 L1174.4,1175.7 L1174.7,1173.2 L1175.0,1170.8 L1175.3,1168.3 L1175.6,1165.8 L1175.9,1163.3 L1176.2,1160.8 L1176.5,1158.3 L1176.8,1155.8 L1177.1,1153.3 L1177.5,1150.8 L1177.8,1148.3 L1178.1,1145.8 L1178.4,1143.3 L1178.7,1140.8 L1179.1,1138.3 L1179.4,1135.9 L1179.7,1133.4 L1180.1,1130.9 L1180.4,1128.4 L1180.8,1125.9 L1181.2,1123.4 L1181.6,1120.9 L1182.0,1118.5 L1182.4,1116.0 L1182.8,1113.5 L1183.3,1111.0 L1183.7,1108.6 L1184.2,1106.1 L1184.7,1103.7 L1185.3,1101.2 L1185.8,1098.7 L1186.4,1096.3 L1187.0,1093.9 L1187.6,1091.4 L1188.2,1089.0 L1188.9,1086.6 L1189.6,1084.2 L1190.3,1081.8 L1191.1,1079.4 L1191.9,1077.0 L1192.7,1074.6 L1193.5,1072.2 L1194.4,1069.9 L1195.3,1067.5 L1196.3,1065.2 L1197.2,1062.9 L1198.3,1060.6 L1199.3,1058.3 L1200.4,1056.1 L1201.5,1053.8 L1202.7,1051.6 L1203.9,1049.4 L1205.1,1047.2 L1206.4,1045.0 L1207.7,1042.9 L1209.1,1040.8 L1210.5,1038.7 L1211.9,1036.6 L1213.4,1034.6 L1214.9,1032.6 L1216.5,1030.6 L1218.1,1028.7 L1219.7,1026.8 L1221.4,1025.0 L1223.2,1023.2 L1225.0,1021.4 L1226.8,1019.7 L1228.7,1018.0 L1230.6,1016.3 L1232.5,1014.8 L1234.5,1013.2 L1236.5,1011.8 L1238.6,1010.3 L1240.7,1008.9 L1242.8,1007.6 L1244.9,1006.3 L1247.1,1005.0 L1249.3,1003.7 L1251.5,1002.5 L1253.7,1001.3 L1255.9,1000.1 L1258.1,998.9 L1260.4,997.8 L1262.6,996.7 L1264.8,995.5 L1267.1,994.4 L1269.3,993.3 L1271.6,992.1 L1273.8,991.0 L1276.0,989.9 L1278.3,988.7 L1280.5,987.5 L1282.7,986.4 L1284.9,985.2 L1287.1,983.9 L1289.3,982.7 L1291.4,981.4 L1293.6,980.1 L1295.7,978.7 L1297.8,977.4 L1299.9,976.0 L1302.0,974.6 L1304.1,973.2 L1306.1,971.7 L1308.2,970.3 L1310.2,968.8 L1312.2,967.3 L1314.2,965.8 L1316.2,964.3 L1318.2,962.7 L1320.2,961.2 L1322.2,959.7 L1324.2,958.1 L1326.2,956.7 L1328.3,955.2 L1330.4,953.8 L1332.5,952.5 L1334.7,951.3 L1337.0,950.2 L1339.3,949.2 L1341.6,948.3 L1344.0,947.6 L1346.4,946.9 L1348.9,946.3 L1351.4,945.9 L1353.8,945.5 L1356.3,945.1 L1358.8,944.9 L1361.3,944.7 L1363.8,944.6 L1366.4,944.5 L1368.9,944.4 L1371.4,944.4 L1373.9,944.4 L1376.4,944.4 L1378.9,944.4 L1381.4,944.4 L1383.9,944.4 L1386.4,944.4 L1389.0,944.4 L1391.5,944.4 L1394.0,944.4 L1396.5,944.3 L1399.0,944.1 L1401.5,943.9 L1404.0,943.7 L1406.5,943.4 L1409.0,943.0 L1411.5,942.6 L1413.9,942.1 L1416.4,941.6 L1418.8,941.0 L1421.3,940.5 L1423.7,939.9 L1426.2,939.3 L1428.6,938.7 L1431.1,938.2 L1433.5,937.6 L1436.0,937.1 L1438.4,936.6 L1440.9,936.1 L1443.4,935.6 L1445.8,935.2 L1448.3,934.9 L1450.8,934.5 L1453.3,934.1 L1455.8,933.8 L1458.3,933.4 L1460.8,933.0 L1463.2,932.6 L1465.7,932.2 L1468.2,931.7 L1470.6,931.2 L1473.1,930.6 L1475.5,930.0 L1477.9,929.3 L1480.3,928.5 L1482.7,927.6 L1485.0,926.7 L1487.3,925.6 L1489.5,924.4 L1491.6,923.1 L1493.7,921.7 L1495.7,920.2 L1497.6,918.6 L1499.5,916.9 L1501.3,915.2 L1503.1,913.4 L1504.8,911.6 L1506.5,909.8 L1508.2,907.9 L1509.9,906.1 L1511.6,904.2 L1513.4,902.4 L1515.1,900.6 L1516.9,898.8 L1518.7,897.1 L1520.6,895.4 L1522.6,893.9 L1524.6,892.4 L1526.7,891.0 L1528.9,889.8 L1531.2,888.8 L1533.6,888.0 L1536.0,887.4 L1538.5,887.2 L1541.0,887.5 L1543.4,888.2 L1545.7,889.2 L1547.9,890.5 L1549.9,892.0 L1551.8,893.6 L1553.6,895.4 L1555.3,897.2 L1556.9,899.2 L1558.4,901.2 L1559.9,903.2 L1561.3,905.3 L1562.7,907.4 L1564.0,909.5 L1565.3,911.7 L1566.6,913.9 L1567.8,916.0 L1569.1,918.2 L1570.4,920.3 L1571.7,922.5 L1573.1,924.6 L1574.5,926.6 L1576.1,928.6 L1577.7,930.6 L1579.3,932.4 L1581.1,934.3 L1582.9,936.0 L1584.7,937.7 L1586.6,939.3 L1588.6,940.9 L1590.6,942.4 L1592.7,943.8 L1594.8,945.1 L1597.0,946.4 L1599.2,947.5 L1601.5,948.6 L1603.8,949.5 L1606.2,950.4 L1608.6,951.1 L1611.1,951.7 L1613.5,952.1 L1616.0,952.3 L1618.6,952.4 L1621.1,952.2 L1623.5,951.9 L1626.0,951.3 L1628.4,950.5 L1630.7,949.5 L1632.8,948.2 L1635.0,946.9 L1637.0,945.4 L1638.9,943.8 L1640.8,942.1 L1642.6,940.3 L1644.3,938.5 L1646.0,936.7 L1647.7,934.8 L1649.3,932.9 L1650.9,930.9 L1652.5,929.0 L1654.1,927.0 L1655.6,925.1 L1657.2,923.1 L1658.8,921.2 L1660.4,919.2 L1662.0,917.3 L1663.7,915.5 L1665.5,913.7 L1667.4,912.1 L1669.5,910.7 L1671.8,909.6 L1674.2,908.8 L1676.6,908.5 L1679.2,908.7 L1681.6,909.1 L1684.0,909.9 L1686.3,911.0 L1688.4,912.3 L1690.4,913.8 L1692.3,915.5 L1694.0,917.3 L1695.6,919.2 L1697.2,921.2 L1698.7,923.2 L1700.2,925.2 L1701.7,927.2 L1703.3,929.2 L1705.0,931.1 L1706.7,932.9 L1708.6,934.5 L1710.5,936.1 L1712.6,937.6 L1714.7,938.9 L1716.9,940.0 L1719.2,941.1 L1721.6,942.0 L1724.0,942.7 L1726.4,943.3 L1728.9,943.8 L1731.4,944.1 L1733.9,944.2 L1736.4,944.2 L1738.9,944.1 L1741.4,943.8 L1743.9,943.4 L1746.3,942.8 L1748.7,942.1 L1751.1,941.2 L1753.4,940.2 L1755.6,939.1 L1757.8,937.9 L1760.0,936.5 L1762.0,935.1 L1764.1,933.7 L1766.1,932.1 L1768.0,930.5 L1769.9,928.9 L1771.9,927.3 L1773.7,925.6 L1775.6,924.0 L1777.5,922.3 L1779.4,920.7 L1781.3,919.1 L1783.3,917.5" stroke="#ff0000" stroke-width="4.1" fill="none" stroke-linejoin="round" stroke-linecap="round"/><path d="M1783.3,917.5 L1783.3,920.0 L1783.2,922.5 L1783.2,925.0 L1783.2,927.6 L1783.2,930.1 L1783.1,932.6 L1783.1,935.1 L1783.1,937.6 L1783.1,940.1 L1783.0,942.6 L1783.0,945.2 L1783.0,947.7 L1783.0,950.2 L1782.9,952.7 L1782.9,955.2 L1782.8,957.7 L1782.8,960.2 L1782.7,962.7 L1782.7,965.3 L1782.6,967.8 L1782.5,970.3 L1782.4,972.8 L1782.3,975.3 L1782.2,977.8 L1782.1,980.3 L1782.0,982.8 L1781.8,985.4 L1781.6,987.9 L1781.5,990.4 L1781.3,992.9 L1781.1,995.4 L1780.8,997.9 L1780.6,1000.4 L1780.3,1002.9 L1780.0,1005.4 L1779.7,1007.9 L1779.4,1010.4 L1779.1,1012.9 L1778.7,1015.4 L1778.3,1017.8 L1777.9,1020.3 L1777.5,1022.8 L1777.0,1025.3 L1776.6,1027.7 L1776.0,1030.2 L1775.5,1032.7 L1774.9,1035.1 L1774.4,1037.5 L1773.7,1040.0 L1773.1,1042.4 L1772.4,1044.8 L1771.7,1047.2 L1771.0,1049.6 L1770.2,1052.0 L1769.4,1054.4 L1768.6,1056.8 L1767.7,1059.2 L1766.8,1061.5 L1765.9,1063.8 L1764.9,1066.2 L1763.9,1068.5 L1762.8,1070.7 L1761.7,1073.0 L1760.5,1075.2 L1759.3,1077.4 L1758.0,1079.6 L1756.6,1081.7 L1755.2,1083.7 L1753.7,1085.8 L1752.1,1087.7 L1750.5,1089.6 L1748.8,1091.4 L1747.0,1093.2 L1745.1,1094.9 L1743.1,1096.4 L1741.1,1097.9 L1739.0,1099.3 L1736.9,1100.7 L1734.7,1101.9 L1732.5,1103.2 L1730.3,1104.4 L1728.1,1105.5 L1725.8,1106.7 L1723.6,1107.8 L1721.3,1108.9 L1719.1,1110.1 L1716.9,1111.2 L1714.6,1112.3 L1712.3,1113.4 L1710.1,1114.5 L1707.8,1115.7 L1705.6,1116.8 L1703.3,1117.9 L1701.1,1119.0 L1698.8,1120.1 L1696.5,1121.2 L1694.3,1122.3 L1692.0,1123.3 L1689.7,1124.4 L1687.5,1125.5 L1685.2,1126.6 L1682.9,1127.7 L1680.6,1128.7 L1678.4,1129.8 L1676.1,1130.8 L1673.8,1131.8 L1671.5,1132.8 L1669.2,1133.8 L1666.8,1134.8 L1664.5,1135.7 L1662.2,1136.7 L1659.8,1137.6 L1657.5,1138.5 L1655.1,1139.4 L1652.8,1140.2 L1650.4,1141.1 L1648.0,1141.9 L1645.6,1142.6 L1643.2,1143.4 L1640.8,1144.1 L1638.4,1144.8 L1636.0,1145.5 L1633.6,1146.1 L1631.1,1146.8 L1628.7,1147.4 L1626.2,1148.0 L1623.8,1148.5 L1621.3,1149.1 L1618.9,1149.7 L1616.4,1150.3 L1614.0,1150.8 L1611.6,1151.4 L1609.1,1152.0 L1606.7,1152.6 L1604.2,1153.3 L1601.8,1153.9 L1599.4,1154.6 L1597.0,1155.3 L1594.6,1156.0 L1592.2,1156.8 L1589.8,1157.6 L1587.4,1158.5 L1585.1,1159.4 L1582.8,1160.4 L1580.5,1161.4 L1578.2,1162.4 L1576.0,1163.6 L1573.8,1164.8 L1571.6,1166.0 L1569.4,1167.3 L1567.3,1168.7 L1565.2,1170.1 L1563.1,1171.5 L1561.1,1173.0 L1559.1,1174.5 L1557.1,1176.0 L1555.2,1177.6 L1553.2,1179.2 L1551.3,1180.9 L1549.4,1182.5 L1547.6,1184.2 L1545.7,1185.9 L1543.9,1187.7 L1542.1,1189.4 L1540.3,1191.2 L1538.5,1192.9 L1536.7,1194.7 L1535.0,1196.5 L1533.2,1198.3 L1531.5,1200.1 L1529.7,1201.9 L1528.0,1203.7 L1526.2,1205.5 L1524.4,1207.3 L1522.6,1209.0 L1520.7,1210.7 L1518.8,1212.3 L1516.9,1213.9 L1514.9,1215.4 L1512.8,1216.8 L1510.6,1218.1 L1508.4,1219.2 L1506.1,1220.2 L1503.7,1221.0 L1501.2,1221.6 L1498.7,1221.9 L1496.2,1222.0 L1493.7,1221.9 L1491.2,1221.6 L1488.7,1221.1 L1486.3,1220.6 L1483.8,1220.0 L1481.4,1219.3 L1479.0,1218.6 L1476.6,1217.9 L1474.2,1217.2 L1471.8,1216.5 L1469.3,1215.8 L1466.9,1215.2 L1464.5,1214.6 L1462.0,1214.0 L1459.6,1213.6 L1457.1,1213.1 L1454.6,1212.8 L1452.1,1212.5 L1449.6,1212.3 L1447.1,1212.2 L1444.6,1212.1 L1442.0,1212.2 L1439.5,1212.3 L1437.0,1212.6 L1434.5,1212.9 L1432.1,1213.2 L1429.6,1213.7 L1427.1,1214.2 L1424.7,1214.8 L1422.2,1215.4 L1419.8,1216.0 L1417.4,1216.8 L1415.0,1217.5 L1412.6,1218.3 L1410.2,1219.1 L1407.9,1220.0 L1405.5,1220.9 L1403.2,1221.8 L1400.8,1222.7 L1398.5,1223.6 L1396.2,1224.6 L1393.8,1225.5 L1391.5,1226.5 L1389.2,1227.5 L1386.9,1228.4 L1384.6,1229.4 L1382.2,1230.4 L1379.9,1231.3 L1377.6,1232.3 L1375.3,1233.2 L1372.9,1234.2 L1370.6,1235.1 L1368.3,1236.1 L1365.9,1237.0 L1363.6,1238.0 L1361.3,1238.9 L1359.0,1239.9 L1356.7,1240.9 L1354.4,1241.9 L1352.1,1242.9 L1349.8,1243.9 L1347.5,1244.9 L1345.2,1246.0 L1342.9,1247.0 L1340.6,1248.1 L1338.3,1249.2 L1336.1,1250.3 L1333.8,1251.4 L1331.6,1252.5 L1329.3,1253.6 L1327.1,1254.7 L1324.8,1255.9 L1322.6,1257.0 L1320.4,1258.2 L1318.1,1259.4 L1315.9,1260.5 L1313.7,1261.7 L1311.5,1262.9 L1309.3,1264.1 L1307.1,1265.3 L1304.9,1266.5 L1302.7,1267.8 L1300.5,1269.0 L1298.3,1270.2 L1296.1,1271.4 L1293.9,1272.7 L1291.7,1273.9 L1289.5,1275.2 L1287.3,1276.4 L1285.2,1277.6 L1283.0,1278.9 L1280.8,1280.2 L1278.6,1281.4 L1276.4,1282.7 L1274.3,1283.9 L1272.1,1285.2 L1269.9,1286.4 L1267.7,1287.7 L1265.6,1288.9 L1263.4,1290.2 L1261.2,1291.5 L1259.0,1292.7 L1256.8,1294.0 L1254.7,1295.2 L1252.5,1296.4 L1250.3,1297.7 L1248.1,1298.9 L1245.9,1300.2 L1243.7,1301.4 L1241.5,1302.6 L1239.3,1303.8 L1237.1,1305.1 L1234.9,1306.3 L1232.7,1307.5 L1230.5,1308.7 L1228.3,1309.9 L1226.1,1311.0 L1223.9,1312.2 L1221.6,1313.4 L1219.4,1314.6 L1217.2,1315.7 L1214.9,1316.9 L1212.7,1318.1 L1210.5,1319.2 L1208.3,1320.4 L1206.1,1321.6 L1203.9,1322.9 L1201.7,1324.1 L1199.5,1325.4 L1197.4,1326.7 L1195.2,1328.0 L1193.1,1329.3 L1191.0,1330.7 L1189.0,1332.2 L1186.9,1333.6 L1184.9,1335.1 L1182.9,1336.7 L1181.0,1338.3 L1179.1,1339.9 L1177.2,1341.6 L1175.4,1343.3 L1173.6,1345.1 L1171.9,1346.9 L1170.2,1348.8 L1168.6,1350.7 L1167.1,1352.7 L1165.6,1354.8 L1164.1,1356.8 L1162.8,1358.9 L1161.5,1361.1" stroke="#ff0000" stroke-width="4.1" fill="none" stroke-linejoin="round" stroke-linecap="round"/></g><rect x="1110" y="840" width="726" height="585" fill="none" stroke="#000" stroke-width="3.8"/><line x1="1161.9" y1="1425" x2="1161.9" y2="1436.0" stroke="#000" stroke-width="3.8"/><text x="1161.9" y="1482.6" text-anchor="middle">-0.2</text><line x1="1369.3" y1="1425" x2="1369.3" y2="1436.0" stroke="#000" stroke-width="3.8"/><text x="1369.3" y="1482.6" text-anchor="middle">0.0</text><line x1="1576.7" y1="1425" x2="1576.7" y2="1436.0" stroke="#000" stroke-width="3.8"/><text x="1576.7" y="1482.6" text-anchor="middle">0.2</text><line x1="1784.1" y1="1425" x2="1784.1" y2="1436.0" stroke="#000" stroke-width="3.8"/><text x="1784.1" y="1482.6" text-anchor="middle">0.4</text><line x1="1265.6" y1="1425" x2="1265.6" y2="1430.5" stroke="#000" stroke-width="3.8"/><line x1="1473.0" y1="1425" x2="1473.0" y2="1430.5" stroke="#000" stroke-width="3.8"/><line x1="1680.4" y1="1425" x2="1680.4" y2="1430.5" stroke="#000" stroke-width="3.8"/><line x1="1110" y1="1425.0" x2="1099.0" y2="1425.0" stroke="#000" stroke-width="3.8"/><text x="1090.0" y="1439.8" text-anchor="end">-0.4</text><line x1="1110" y1="1269.0" x2="1099.0" y2="1269.0" stroke="#000" stroke-width="3.8"/><text x="1090.0" y="1283.8" text-anchor="end">-0.2</text><line x1="1110" y1="1113.0" x2="1099.0" y2="1113.0" stroke="#000" stroke-width="3.8"/><text x="1090.0" y="1127.8" text-anchor="end">0.0</text><line x1="1110" y1="957.0" x2="1099.0" y2="957.0" stroke="#000" stroke-width="3.8"/><text x="1090.0" y="971.8" text-anchor="end">0.2</text><line x1="1110" y1="1347.0" x2="1104.5" y2="1347.0" stroke="#000" stroke-width="3.8"/><line x1="1110" y1="1191.0" x2="1104.5" y2="1191.0" stroke="#000" stroke-width="3.8"/><line x1="1110" y1="1035.0" x2="1104.5" y2="1035.0" stroke="#000" stroke-width="3.8"/><line x1="1110" y1="879.0" x2="1104.5" y2="879.0" stroke="#000" stroke-width="3.8"/><text x="1140.0" y="900.0" font-size="68">d</text><text x="1335.0" y="1529.1"><tspan font-style="italic">E</tspan> / V vs. SCE</text><text transform="translate(1020.5,1120.6) rotate(-90)" text-anchor="middle"><tspan font-style="italic">I</tspan> / mA</text><line x1="1541.2" y1="1196.6" x2="1640.2" y2="1196.6" stroke="#ff0000" stroke-width="4.1" fill="none" stroke-linejoin="round" stroke-linecap="round"/><text x="1666.2" y="1214.6">SFCC1</text><line x1="1541.2" y1="1257.1" x2="1558.2" y2="1257.1" stroke="#000" stroke-width="3.8" stroke-linecap="round"/><line x1="1581.7" y1="1257.1" x2="1598.7" y2="1257.1" stroke="#000" stroke-width="3.8" stroke-linecap="round"/><line x1="1622.2" y1="1257.1" x2="1639.2" y2="1257.1" stroke="#000" stroke-width="3.8" stroke-linecap="round"/><text x="1666.2" y="1275.1">SFCC2</text><line x1="1542.4" y1="1317.6" x2="1544.4" y2="1317.6" stroke="#0000ff" stroke-width="4.2" stroke-linecap="round"/><line x1="1566.3" y1="1317.6" x2="1568.3" y2="1317.6" stroke="#0000ff" stroke-width="4.2" stroke-linecap="round"/><line x1="1590.2" y1="1317.6" x2="1592.2" y2="1317.6" stroke="#0000ff" stroke-width="4.2" stroke-linecap="round"/><line x1="1614.1" y1="1317.6" x2="1616.1" y2="1317.6" stroke="#0000ff" stroke-width="4.2" stroke-linecap="round"/><line x1="1638.0" y1="1317.6" x2="1640.0" y2="1317.6" stroke="#0000ff" stroke-width="4.2" stroke-linecap="round"/><text x="1666.2" y="1335.6">SFCC3</text><line x1="1541.8" y1="1378.1" x2="1561.6" y2="1378.1" stroke="#ff00ff" stroke-width="4.2" stroke-linecap="round"/><line x1="1576.3" y1="1378.1" x2="1577.3" y2="1378.1" stroke="#ff00ff" stroke-width="4.2" stroke-linecap="round"/><line x1="1592.6" y1="1378.1" x2="1612.3" y2="1378.1" stroke="#ff00ff" stroke-width="4.2" stroke-linecap="round"/><line x1="1627.3" y1="1378.1" x2="1628.3" y2="1378.1" stroke="#ff00ff" stroke-width="4.2" stroke-linecap="round"/><text x="1666.2" y="1396.1">CC</text></g>
</svg></body></html>
